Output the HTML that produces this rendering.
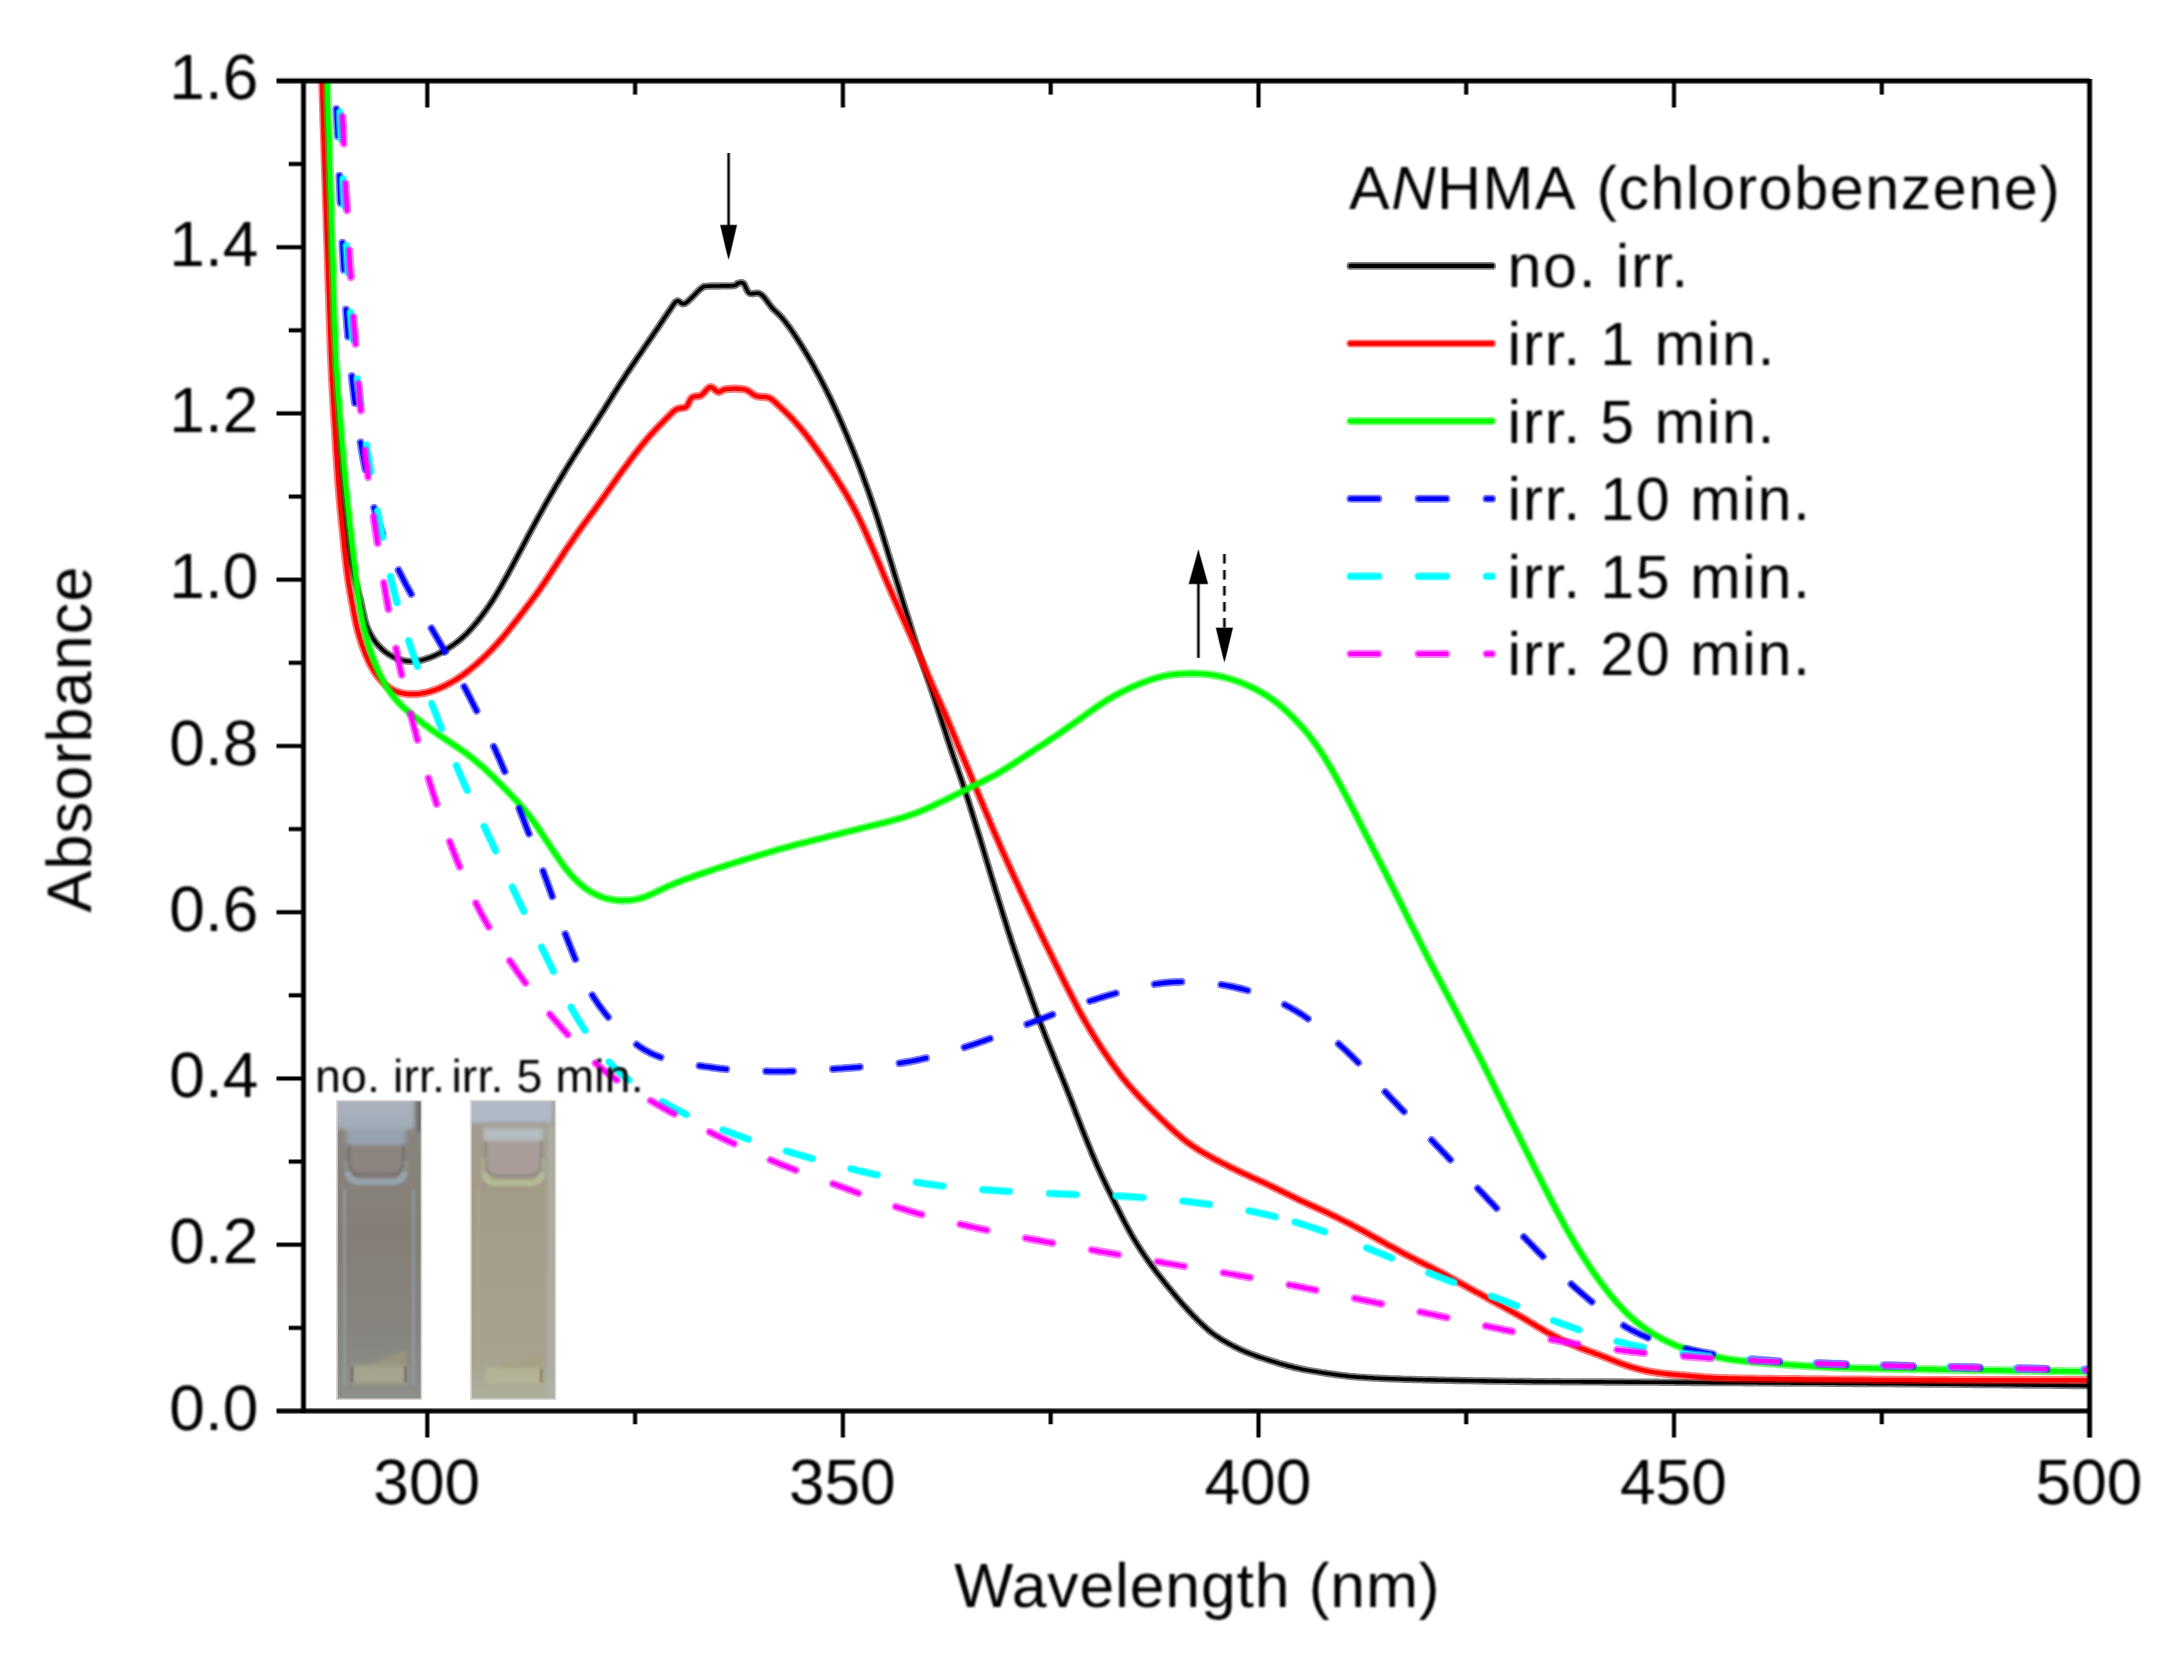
<!DOCTYPE html>
<html lang="en"><head><meta charset="utf-8"><title>ANHMA (chlorobenzene) UV-Vis absorbance vs irradiation time</title><style>html,body{margin:0;padding:0;background:#fff;}body{width:2177px;height:1660px;overflow:hidden;}svg{display:block;}</style></head><body>
<svg width="2177" height="1660" viewBox="0 0 2177 1660" font-family='"Liberation Sans", Arial, Helvetica, sans-serif' text-rendering="geometricPrecision">
<defs>
<clipPath id="plot"><rect x="303.5" y="80.9" width="1786.1" height="1330.1"/></clipPath>
<filter id="soft" x="-2%" y="-2%" width="104%" height="104%"><feGaussianBlur stdDeviation="0.85"/></filter>
<filter id="b2" x="-10%" y="-10%" width="120%" height="120%"><feGaussianBlur stdDeviation="2.2"/></filter>
<filter id="b1" x="-10%" y="-10%" width="120%" height="120%"><feGaussianBlur stdDeviation="1.2"/></filter>
<linearGradient id="cg1" x1="0" y1="0" x2="0" y2="1"><stop offset="0" stop-color="#8b8681"/><stop offset="0.45" stop-color="#857e77"/><stop offset="0.8" stop-color="#87857f"/><stop offset="1" stop-color="#8d8f8a"/></linearGradient><linearGradient id="cg2" x1="0" y1="0" x2="0" y2="1"><stop offset="0" stop-color="#a19b91"/><stop offset="0.3" stop-color="#a29b87"/><stop offset="0.85" stop-color="#a7a18e"/><stop offset="1" stop-color="#aeb09b"/></linearGradient><linearGradient id="cap1" x1="0" y1="0" x2="0" y2="1"><stop offset="0" stop-color="#adb3bd"/><stop offset="1" stop-color="#a0abb9"/></linearGradient><linearGradient id="cap2" x1="0" y1="0" x2="0" y2="1"><stop offset="0" stop-color="#b4bac6"/><stop offset="1" stop-color="#aeb8c6"/></linearGradient>
<path id="c_black" d="M323.0 70.0 L323.1 72.7 L323.2 75.6 L323.3 78.7 L323.4 82.1 L323.4 84.8 L323.5 87.6 L323.6 90.6 L323.7 93.8 L323.8 97.1 L323.9 100.4 L324.0 103.9 L324.1 107.4 L324.2 110.8 L324.3 114.2 L324.4 117.5 L324.5 120.6 L324.6 123.7 L324.7 126.6 L324.8 129.5 L324.9 132.4 L325.0 135.2 L325.0 138.1 L325.1 141.0 L325.2 144.0 L325.3 147.0 L325.4 150.0 L325.5 153.1 L325.6 156.1 L325.7 159.3 L325.8 162.4 L325.9 165.5 L326.0 168.7 L326.1 171.9 L326.2 175.0 L326.3 178.2 L326.4 181.4 L326.5 184.5 L326.6 187.6 L326.7 190.7 L326.8 193.8 L326.9 196.9 L327.0 199.9 L327.1 203.0 L327.2 206.0 L327.3 209.1 L327.4 212.1 L327.5 215.2 L327.6 218.2 L327.8 221.3 L327.9 224.3 L328.0 227.4 L328.1 230.4 L328.2 233.5 L328.3 236.5 L328.4 239.6 L328.5 242.6 L328.7 245.6 L328.8 248.7 L328.9 251.7 L329.0 254.7 L329.1 257.7 L329.2 260.6 L329.4 263.6 L329.5 266.5 L329.6 269.5 L329.7 272.4 L329.8 275.4 L329.9 278.3 L330.1 281.3 L330.2 284.3 L330.3 287.3 L330.4 290.3 L330.5 293.4 L330.7 296.4 L330.8 299.3 L330.9 302.3 L331.0 305.3 L331.1 308.2 L331.3 311.1 L331.4 314.0 L331.5 316.9 L331.6 319.9 L331.7 322.8 L331.9 325.7 L332.0 328.7 L332.1 331.6 L332.3 334.6 L332.4 337.6 L332.6 340.7 L332.7 343.7 L332.8 346.7 L333.0 349.7 L333.1 352.7 L333.3 355.7 L333.4 358.7 L333.6 361.7 L333.7 364.7 L333.9 367.7 L334.1 370.7 L334.2 373.8 L334.4 376.8 L334.5 379.9 L334.7 383.0 L334.9 386.1 L335.0 389.1 L335.2 392.2 L335.4 395.3 L335.6 398.4 L335.7 401.5 L335.9 404.5 L336.1 407.6 L336.3 410.6 L336.5 413.6 L336.6 416.5 L336.8 419.5 L337.0 422.5 L337.2 425.4 L337.4 428.4 L337.6 431.5 L337.8 434.5 L338.0 437.6 L338.3 440.7 L338.5 443.8 L338.7 446.9 L339.0 449.9 L339.2 453.0 L339.4 456.0 L339.7 459.0 L339.9 462.0 L340.1 465.0 L340.4 467.9 L340.6 470.9 L340.9 473.8 L341.1 476.7 L341.4 479.6 L341.7 482.5 L341.9 485.4 L342.2 488.4 L342.5 491.3 L342.7 494.3 L343.0 497.3 L343.3 500.3 L343.6 503.4 L343.9 506.5 L344.2 509.7 L344.5 512.8 L344.8 516.0 L345.1 519.1 L345.4 522.3 L345.7 525.4 L346.1 528.6 L346.4 531.6 L346.7 534.7 L347.0 537.7 L347.4 540.7 L347.7 543.6 L348.1 546.5 L348.5 549.4 L348.9 552.3 L349.4 555.1 L349.9 558.1 L350.4 561.1 L351.0 564.1 L351.7 567.2 L352.4 570.3 L353.2 573.3 L353.9 576.4 L354.8 579.3 L355.6 582.2 L356.4 585.0 L357.2 587.8 L358.0 590.5 L358.7 593.3 L359.5 596.1 L360.2 598.9 L360.9 601.8 L361.6 604.8 L362.2 607.8 L362.8 610.8 L363.5 613.7 L364.1 616.7 L364.8 619.5 L365.6 622.4 L366.5 625.2 L367.5 628.0 L368.7 630.7 L370.1 633.4 L371.5 636.0 L373.1 638.6 L374.9 641.1 L376.7 643.5 L378.7 645.8 L380.9 648.0 L383.1 650.1 L385.5 652.1 L388.0 653.9 L390.6 655.5 L393.3 657.0 L396.1 658.3 L399.0 659.3 L402.0 660.2 L405.0 660.8 L408.1 661.2 L411.2 661.3 L414.2 661.2 L417.3 660.9 L420.3 660.4 L423.3 659.7 L426.3 658.8 L429.2 657.8 L432.1 656.7 L434.9 655.5 L437.7 654.2 L440.4 652.8 L443.1 651.4 L445.7 649.8 L448.3 648.3 L450.8 646.6 L453.3 644.9 L455.7 643.1 L458.1 641.3 L460.4 639.4 L462.7 637.3 L465.0 635.2 L467.2 633.1 L469.3 630.8 L471.4 628.5 L473.5 626.1 L475.5 623.7 L477.5 621.3 L479.4 618.8 L481.4 616.4 L483.2 613.9 L485.0 611.5 L486.8 609.0 L488.5 606.5 L490.2 604.0 L491.9 601.5 L493.5 599.0 L495.1 596.4 L496.7 593.8 L498.2 591.2 L499.8 588.5 L501.4 585.8 L502.9 583.0 L504.4 580.3 L506.0 577.5 L507.5 574.8 L508.9 572.1 L510.4 569.4 L511.8 566.8 L513.2 564.2 L514.6 561.6 L515.9 559.1 L517.3 556.5 L518.7 553.9 L520.0 551.4 L521.4 548.8 L522.8 546.2 L524.2 543.5 L525.6 540.9 L527.0 538.2 L528.4 535.5 L529.9 532.7 L531.4 529.9 L532.9 527.2 L534.4 524.4 L535.9 521.6 L537.4 518.8 L538.9 516.1 L540.4 513.4 L541.9 510.7 L543.4 508.0 L544.8 505.4 L546.3 502.7 L547.8 500.1 L549.3 497.5 L550.8 494.9 L552.3 492.3 L553.8 489.8 L555.2 487.2 L556.7 484.6 L558.3 482.1 L559.8 479.5 L561.3 477.0 L562.8 474.5 L564.3 472.0 L565.9 469.4 L567.4 466.9 L569.0 464.3 L570.6 461.8 L572.2 459.2 L573.8 456.6 L575.4 454.1 L577.1 451.5 L578.7 448.9 L580.3 446.4 L582.0 443.8 L583.6 441.3 L585.3 438.7 L587.0 436.1 L588.7 433.5 L590.4 430.8 L592.1 428.2 L593.8 425.6 L595.5 423.0 L597.2 420.3 L598.8 417.7 L600.5 415.1 L602.1 412.5 L603.8 409.9 L605.4 407.3 L607.0 404.7 L608.6 402.1 L610.2 399.6 L611.8 397.0 L613.4 394.4 L615.0 391.8 L616.7 389.3 L618.3 386.7 L619.9 384.1 L621.6 381.5 L623.3 378.9 L625.0 376.3 L626.7 373.6 L628.5 370.9 L630.3 368.3 L632.1 365.6 L633.9 362.9 L635.7 360.3 L637.4 357.7 L639.2 355.2 L640.9 352.7 L642.6 350.2 L644.2 347.7 L645.9 345.3 L647.6 342.8 L649.4 340.2 L651.1 337.7 L652.7 335.4 L654.2 333.1 L655.9 330.7 L656.5 329.9 L657.0 329.1 L657.6 328.3 L658.1 327.4 L658.7 326.6 L659.3 325.7 L659.8 324.9 L660.4 324.0 L661.0 323.1 L661.6 322.2 L662.2 321.3 L662.8 320.4 L663.4 319.5 L664.0 318.6 L664.6 317.7 L665.2 316.8 L665.8 316.0 L666.3 315.1 L666.9 314.3 L667.4 313.5 L667.9 312.8 L668.4 312.1 L668.9 311.4 L669.7 310.3 L670.4 309.2 L671.1 308.2 L671.7 307.2 L672.3 306.3 L672.9 305.4 L673.5 304.5 L674.0 303.8 L674.6 303.1 L675.1 302.4 L675.7 301.9 L676.3 301.5 L676.9 301.1 L677.9 300.9 L678.7 301.2 L679.6 301.8 L680.4 302.5 L681.4 303.2 L682.4 303.7 L683.6 303.8 L685.0 303.4 L685.6 303.0 L686.3 302.6 L687.0 302.1 L687.7 301.5 L688.5 300.8 L689.3 300.0 L690.1 299.2 L691.0 298.4 L691.8 297.6 L692.7 296.7 L693.6 295.8 L694.4 294.9 L695.3 294.0 L696.1 293.2 L696.9 292.3 L697.7 291.5 L698.5 290.8 L699.2 290.1 L699.9 289.5 L700.5 289.0 L701.1 288.5 L702.4 287.5 L703.2 286.9 L703.7 286.5 L704.2 286.4 L705.0 286.4 L706.1 286.3 L708.0 286.2 L708.7 286.1 L709.5 286.1 L710.3 286.1 L711.2 286.0 L712.2 286.0 L713.2 286.0 L714.3 286.0 L715.4 286.0 L716.6 286.0 L717.8 286.0 L718.9 286.0 L720.1 286.0 L721.3 285.9 L722.5 285.9 L723.7 285.9 L724.9 285.9 L726.0 285.9 L727.1 285.9 L728.2 285.9 L729.2 285.9 L730.1 285.9 L731.0 285.8 L731.8 285.8 L732.6 285.8 L733.2 285.7 L735.4 285.3 L736.5 284.8 L736.9 284.2 L737.1 283.7 L737.8 283.4 L738.9 283.1 L740.0 282.8 L741.2 282.6 L742.3 282.7 L743.5 283.4 L744.0 283.9 L744.5 284.7 L744.9 285.6 L745.4 286.6 L745.8 287.6 L746.3 288.7 L746.8 289.8 L747.3 290.8 L747.9 291.7 L748.6 292.5 L749.3 293.1 L750.1 293.5 L751.0 293.7 L752.0 293.7 L753.1 293.6 L754.1 293.5 L755.3 293.3 L756.4 293.2 L757.5 293.2 L758.6 293.3 L759.7 293.7 L760.8 294.2 L761.5 294.7 L762.2 295.3 L762.8 295.9 L763.5 296.6 L764.2 297.4 L764.9 298.2 L765.5 299.1 L766.2 300.0 L766.9 300.9 L767.6 301.8 L768.2 302.8 L768.9 303.7 L769.6 304.6 L770.3 305.5 L771.0 306.4 L771.6 307.2 L772.3 308.0 L773.0 308.8 L773.7 309.5 L774.4 310.2 L775.2 310.9 L775.9 311.6 L776.6 312.2 L777.3 312.9 L778.0 313.6 L778.7 314.3 L779.4 315.0 L780.1 315.7 L780.8 316.5 L781.5 317.2 L782.2 318.0 L782.8 318.8 L783.5 319.6 L784.1 320.4 L786.0 322.7 L787.8 325.2 L789.7 327.7 L791.5 330.3 L793.3 332.9 L795.0 335.5 L796.7 338.1 L798.4 340.7 L800.1 343.3 L801.7 345.9 L803.3 348.5 L804.9 351.2 L806.5 353.8 L808.1 356.5 L809.6 359.1 L811.2 361.8 L812.7 364.5 L814.2 367.2 L815.6 369.9 L817.1 372.6 L818.5 375.2 L820.0 377.9 L821.4 380.6 L822.8 383.3 L824.2 386.0 L825.5 388.7 L826.9 391.4 L828.2 394.2 L829.6 396.9 L830.9 399.6 L832.2 402.4 L833.5 405.1 L834.8 407.9 L836.1 410.7 L837.4 413.5 L838.6 416.3 L839.9 419.2 L841.1 422.0 L842.4 424.9 L843.6 427.8 L844.8 430.7 L846.1 433.6 L847.3 436.5 L848.4 439.3 L849.6 442.2 L850.8 444.9 L851.9 447.7 L853.0 450.4 L854.1 453.0 L855.1 455.7 L856.2 458.4 L857.3 461.1 L858.3 463.8 L859.4 466.5 L860.4 469.3 L861.4 472.0 L862.4 474.7 L863.4 477.5 L864.4 480.3 L865.4 483.1 L866.5 486.0 L867.5 488.9 L868.6 491.9 L869.6 494.9 L870.7 497.9 L871.7 501.0 L872.7 504.0 L873.7 507.0 L874.7 509.9 L875.7 512.8 L876.6 515.7 L877.6 518.6 L878.5 521.4 L879.3 524.3 L880.2 527.1 L881.1 529.9 L882.0 532.7 L882.8 535.5 L883.7 538.4 L884.5 541.2 L885.4 544.1 L886.3 547.0 L887.2 549.9 L888.0 552.8 L888.9 555.7 L889.8 558.6 L890.7 561.5 L891.6 564.4 L892.5 567.3 L893.3 570.2 L894.2 573.1 L895.1 576.1 L896.0 579.0 L896.9 582.0 L897.9 585.0 L898.8 587.9 L899.7 590.9 L900.6 593.9 L901.5 596.8 L902.4 599.8 L903.3 602.7 L904.2 605.7 L905.1 608.6 L906.0 611.5 L906.9 614.5 L907.9 617.4 L908.8 620.3 L909.7 623.3 L910.6 626.2 L911.5 629.1 L912.4 632.0 L913.3 634.9 L914.2 637.7 L915.1 640.6 L916.0 643.5 L916.9 646.3 L917.8 649.1 L918.7 652.0 L919.6 654.8 L920.6 657.7 L921.5 660.5 L922.5 663.4 L923.4 666.3 L924.4 669.2 L925.4 672.0 L926.3 674.9 L927.3 677.7 L928.3 680.6 L929.3 683.4 L930.2 686.2 L931.2 689.1 L932.2 691.9 L933.1 694.7 L934.1 697.5 L935.0 700.3 L936.0 703.2 L936.9 706.0 L937.9 708.9 L938.8 711.8 L939.7 714.6 L940.7 717.5 L941.6 720.4 L942.5 723.3 L943.4 726.1 L944.4 729.0 L945.3 731.9 L946.2 734.7 L947.1 737.6 L948.0 740.4 L949.0 743.3 L949.9 746.1 L950.9 749.0 L951.8 751.8 L952.8 754.7 L953.7 757.5 L954.7 760.3 L955.7 763.2 L956.7 766.0 L957.7 768.8 L958.6 771.7 L959.6 774.5 L960.6 777.4 L961.6 780.3 L962.6 783.2 L963.5 786.1 L964.5 789.0 L965.4 791.9 L966.4 794.8 L967.3 797.7 L968.3 800.6 L969.2 803.5 L970.1 806.5 L971.0 809.4 L972.0 812.4 L972.9 815.4 L973.8 818.3 L974.7 821.3 L975.6 824.2 L976.5 827.1 L977.4 830.0 L978.3 832.9 L979.2 835.8 L980.1 838.7 L980.9 841.6 L981.8 844.5 L982.7 847.4 L983.5 850.2 L984.4 853.1 L985.2 855.9 L986.1 858.7 L986.9 861.6 L987.8 864.5 L988.7 867.4 L989.5 870.3 L990.4 873.2 L991.3 876.2 L992.2 879.1 L993.1 882.1 L994.0 885.1 L994.9 888.1 L995.8 891.1 L996.8 894.1 L997.7 897.1 L998.6 900.2 L999.6 903.3 L1000.5 906.4 L1001.5 909.5 L1002.4 912.5 L1003.3 915.5 L1004.3 918.5 L1005.2 921.4 L1006.1 924.2 L1007.0 927.1 L1007.9 930.0 L1008.8 932.9 L1009.8 935.8 L1010.7 938.7 L1011.6 941.6 L1012.6 944.4 L1013.5 947.2 L1014.4 949.9 L1015.4 952.6 L1016.3 955.3 L1017.2 958.0 L1018.2 960.8 L1019.1 963.6 L1020.1 966.5 L1021.1 969.4 L1022.2 972.3 L1023.2 975.3 L1024.2 978.2 L1025.3 981.2 L1026.3 984.1 L1027.4 987.0 L1028.4 989.9 L1029.4 992.8 L1030.4 995.6 L1031.4 998.5 L1032.4 1001.3 L1033.4 1004.1 L1034.4 1006.9 L1035.4 1009.7 L1036.4 1012.5 L1037.5 1015.3 L1038.5 1018.1 L1039.6 1020.8 L1040.6 1023.6 L1041.7 1026.4 L1042.8 1029.2 L1043.9 1032.0 L1045.0 1034.8 L1046.1 1037.7 L1047.3 1040.6 L1048.4 1043.5 L1049.6 1046.3 L1050.7 1049.2 L1051.9 1052.1 L1053.0 1055.0 L1054.2 1057.9 L1055.3 1060.8 L1056.5 1063.7 L1057.7 1066.6 L1058.8 1069.5 L1060.0 1072.4 L1061.2 1075.2 L1062.3 1078.1 L1063.5 1080.9 L1064.6 1083.8 L1065.8 1086.6 L1066.9 1089.5 L1068.0 1092.4 L1069.1 1095.3 L1070.3 1098.1 L1071.4 1101.0 L1072.5 1103.9 L1073.6 1106.8 L1074.7 1109.6 L1075.7 1112.5 L1076.8 1115.4 L1077.9 1118.2 L1079.1 1121.1 L1080.2 1124.0 L1081.3 1126.9 L1082.4 1129.8 L1083.6 1132.7 L1084.7 1135.6 L1085.9 1138.4 L1087.0 1141.3 L1088.2 1144.2 L1089.3 1147.0 L1090.5 1149.8 L1091.6 1152.7 L1092.8 1155.5 L1094.0 1158.3 L1095.2 1161.1 L1096.4 1163.9 L1097.6 1166.7 L1098.9 1169.4 L1100.1 1172.1 L1101.3 1174.9 L1102.6 1177.6 L1103.9 1180.3 L1105.2 1183.1 L1106.5 1185.8 L1107.8 1188.6 L1109.2 1191.3 L1110.5 1194.0 L1111.9 1196.7 L1113.2 1199.5 L1114.6 1202.2 L1115.9 1204.9 L1117.3 1207.6 L1118.6 1210.3 L1120.0 1213.0 L1121.3 1215.7 L1122.7 1218.4 L1124.1 1221.1 L1125.5 1223.8 L1127.0 1226.5 L1128.4 1229.2 L1129.9 1231.9 L1131.4 1234.6 L1133.0 1237.3 L1134.6 1240.0 L1136.2 1242.6 L1137.8 1245.3 L1139.5 1247.9 L1141.1 1250.5 L1142.9 1253.1 L1144.6 1255.7 L1146.4 1258.2 L1148.1 1260.8 L1150.0 1263.3 L1151.8 1265.9 L1153.7 1268.4 L1155.5 1270.9 L1157.4 1273.3 L1159.4 1275.8 L1161.3 1278.2 L1163.2 1280.7 L1165.1 1283.1 L1167.1 1285.5 L1169.0 1287.9 L1171.0 1290.2 L1172.9 1292.6 L1174.9 1295.0 L1176.8 1297.3 L1178.8 1299.6 L1180.8 1302.0 L1182.8 1304.3 L1184.8 1306.5 L1186.9 1308.8 L1188.9 1311.0 L1191.0 1313.3 L1193.1 1315.5 L1195.2 1317.6 L1197.3 1319.8 L1199.4 1321.8 L1201.6 1323.9 L1203.8 1325.9 L1206.0 1327.9 L1208.2 1329.9 L1210.6 1331.8 L1212.9 1333.6 L1215.4 1335.4 L1217.9 1337.1 L1220.4 1338.8 L1223.0 1340.4 L1225.7 1341.9 L1228.3 1343.4 L1231.1 1344.9 L1233.8 1346.3 L1236.6 1347.7 L1239.4 1349.1 L1242.2 1350.3 L1245.0 1351.6 L1247.8 1352.7 L1250.6 1353.9 L1253.5 1354.9 L1256.3 1356.0 L1259.1 1357.0 L1262.0 1357.9 L1264.9 1358.9 L1267.7 1359.8 L1270.6 1360.7 L1273.5 1361.6 L1276.5 1362.5 L1279.4 1363.4 L1282.3 1364.2 L1285.3 1365.1 L1288.3 1365.9 L1291.2 1366.6 L1294.2 1367.4 L1297.2 1368.1 L1300.2 1368.7 L1303.2 1369.4 L1306.3 1370.0 L1309.3 1370.5 L1312.3 1371.0 L1315.4 1371.5 L1318.4 1372.0 L1321.3 1372.5 L1324.3 1372.9 L1327.2 1373.4 L1330.0 1373.8 L1332.9 1374.2 L1335.8 1374.6 L1338.7 1375.0 L1341.6 1375.4 L1344.6 1375.7 L1347.6 1376.1 L1350.6 1376.4 L1353.5 1376.6 L1356.3 1376.9 L1358.9 1377.1 L1361.5 1377.3 L1364.1 1377.4 L1366.7 1377.6 L1369.3 1377.8 L1371.9 1377.9 L1374.7 1378.1 L1377.6 1378.2 L1380.6 1378.4 L1383.7 1378.5 L1387.0 1378.6 L1390.3 1378.8 L1393.8 1378.9 L1397.3 1379.0 L1400.7 1379.1 L1404.1 1379.3 L1407.3 1379.4 L1410.4 1379.4 L1413.3 1379.5 L1416.0 1379.6 L1418.7 1379.7 L1421.4 1379.7 L1424.0 1379.8 L1426.7 1379.9 L1429.4 1379.9 L1432.2 1380.0 L1435.0 1380.0 L1437.8 1380.1 L1440.7 1380.2 L1443.6 1380.2 L1446.6 1380.3 L1449.6 1380.3 L1452.6 1380.4 L1455.7 1380.5 L1458.8 1380.5 L1461.9 1380.6 L1465.1 1380.6 L1468.3 1380.7 L1471.5 1380.7 L1474.7 1380.8 L1477.9 1380.8 L1481.2 1380.9 L1484.5 1380.9 L1487.7 1381.0 L1491.0 1381.0 L1494.3 1381.1 L1497.6 1381.1 L1500.9 1381.2 L1504.2 1381.2 L1507.4 1381.3 L1510.7 1381.3 L1513.8 1381.3 L1516.9 1381.4 L1519.9 1381.4 L1522.8 1381.4 L1525.6 1381.5 L1528.3 1381.5 L1531.0 1381.5 L1533.6 1381.6 L1536.3 1381.6 L1538.8 1381.6 L1541.4 1381.6 L1544.0 1381.6 L1546.5 1381.7 L1549.1 1381.7 L1551.7 1381.7 L1554.2 1381.7 L1556.8 1381.7 L1559.4 1381.7 L1562.0 1381.8 L1564.6 1381.8 L1567.2 1381.8 L1569.9 1381.8 L1572.6 1381.8 L1575.3 1381.8 L1578.0 1381.8 L1580.8 1381.8 L1583.7 1381.9 L1586.6 1381.9 L1589.5 1381.9 L1592.5 1381.9 L1595.5 1381.9 L1598.6 1381.9 L1601.8 1381.9 L1605.1 1382.0 L1608.4 1382.0 L1611.8 1382.0 L1615.2 1382.0 L1618.8 1382.0 L1622.4 1382.0 L1626.1 1382.1 L1629.8 1382.1 L1632.3 1382.1 L1634.8 1382.1 L1638.5 1382.1 L1642.2 1382.2 L1645.6 1382.2 L1648.9 1382.2 L1652.0 1382.2 L1654.9 1382.2 L1657.6 1382.2 L1660.3 1382.3 L1662.9 1382.3 L1665.4 1382.3 L1668.0 1382.3 L1670.6 1382.3 L1673.2 1382.3 L1675.9 1382.4 L1678.6 1382.4 L1681.3 1382.4 L1684.0 1382.4 L1686.8 1382.4 L1689.6 1382.4 L1692.5 1382.5 L1695.3 1382.5 L1698.2 1382.5 L1701.1 1382.5 L1704.1 1382.5 L1707.0 1382.5 L1710.0 1382.6 L1713.0 1382.6 L1716.1 1382.6 L1719.1 1382.6 L1722.2 1382.6 L1725.3 1382.7 L1728.4 1382.7 L1731.5 1382.7 L1734.7 1382.7 L1737.8 1382.7 L1741.0 1382.7 L1744.2 1382.8 L1747.3 1382.8 L1750.6 1382.8 L1753.8 1382.8 L1757.0 1382.8 L1760.2 1382.9 L1763.5 1382.9 L1766.7 1382.9 L1770.0 1382.9 L1773.2 1382.9 L1776.5 1383.0 L1779.7 1383.0 L1783.0 1383.0 L1786.3 1383.0 L1789.5 1383.0 L1792.8 1383.1 L1796.1 1383.1 L1799.3 1383.1 L1802.6 1383.1 L1805.9 1383.1 L1809.1 1383.2 L1812.4 1383.2 L1815.6 1383.2 L1818.8 1383.2 L1822.0 1383.3 L1825.3 1383.3 L1828.5 1383.3 L1831.7 1383.3 L1834.8 1383.3 L1838.0 1383.4 L1841.1 1383.4 L1844.3 1383.4 L1847.4 1383.4 L1850.5 1383.4 L1853.6 1383.5 L1856.7 1383.5 L1859.7 1383.5 L1862.7 1383.5 L1865.7 1383.5 L1868.7 1383.6 L1871.7 1383.6 L1874.6 1383.6 L1877.6 1383.6 L1880.4 1383.7 L1883.3 1383.7 L1886.2 1383.7 L1889.0 1383.7 L1891.9 1383.7 L1894.8 1383.8 L1897.8 1383.8 L1900.9 1383.8 L1904.0 1383.8 L1907.3 1383.9 L1910.6 1383.9 L1914.0 1383.9 L1917.4 1383.9 L1920.9 1384.0 L1924.4 1384.0 L1927.9 1384.0 L1931.5 1384.1 L1935.0 1384.1 L1938.5 1384.1 L1942.1 1384.2 L1945.6 1384.2 L1949.2 1384.2 L1952.7 1384.3 L1956.3 1384.3 L1959.8 1384.3 L1963.4 1384.4 L1966.9 1384.4 L1970.4 1384.4 L1973.9 1384.5 L1977.4 1384.5 L1980.9 1384.5 L1984.3 1384.6 L1987.8 1384.6 L1991.2 1384.6 L1994.6 1384.7 L1998.0 1384.7 L2001.4 1384.7 L2004.7 1384.8 L2008.1 1384.8 L2011.4 1384.8 L2014.6 1384.9 L2017.9 1384.9 L2021.1 1384.9 L2024.2 1385.0 L2027.3 1385.0 L2030.4 1385.0 L2033.5 1385.1 L2036.5 1385.1 L2039.5 1385.1 L2042.4 1385.2 L2045.3 1385.2 L2048.2 1385.2 L2051.0 1385.2 L2053.7 1385.3 L2056.4 1385.3 L2059.1 1385.3 L2061.6 1385.4 L2064.2 1385.4 L2067.5 1385.4 L2070.7 1385.5 L2073.8 1385.5 L2076.7 1385.5 L2079.6 1385.5 L2082.3 1385.6 L2085.0 1385.6 L2087.5 1385.6 L2090.5 1385.7 L2093.3 1385.7 L2095.0 1385.7"/>
<path id="c_red" d="M321.8 70.0 L321.9 72.7 L322.0 75.6 L322.1 78.7 L322.2 82.1 L322.3 84.8 L322.4 87.6 L322.5 90.6 L322.6 93.8 L322.7 97.1 L322.8 100.4 L323.0 103.9 L323.1 107.4 L323.2 110.8 L323.3 114.2 L323.4 117.5 L323.5 120.6 L323.6 123.7 L323.7 126.6 L323.8 129.5 L323.9 132.4 L324.0 135.2 L324.1 138.1 L324.2 141.0 L324.3 144.0 L324.4 147.0 L324.4 150.0 L324.5 153.1 L324.6 156.1 L324.7 159.3 L324.8 162.4 L324.9 165.5 L325.0 168.7 L325.1 171.9 L325.2 175.0 L325.3 178.2 L325.4 181.4 L325.5 184.5 L325.6 187.6 L325.7 190.7 L325.8 193.8 L325.9 196.9 L326.0 199.9 L326.1 203.0 L326.2 206.0 L326.3 209.0 L326.4 212.0 L326.5 215.0 L326.6 218.0 L326.7 221.0 L326.7 224.0 L326.8 227.0 L326.9 230.0 L327.0 233.0 L327.1 236.0 L327.2 239.0 L327.3 242.0 L327.4 245.0 L327.5 248.0 L327.6 251.0 L327.7 254.0 L327.8 257.0 L327.9 260.0 L328.0 263.0 L328.1 266.0 L328.1 269.0 L328.2 272.0 L328.3 275.0 L328.4 278.0 L328.5 281.0 L328.6 284.0 L328.7 287.1 L328.8 290.1 L328.9 293.1 L329.0 296.2 L329.1 299.2 L329.2 302.3 L329.3 305.3 L329.4 308.4 L329.5 311.4 L329.6 314.5 L329.7 317.6 L329.8 320.6 L329.9 323.6 L330.0 326.7 L330.1 329.7 L330.2 332.7 L330.3 335.7 L330.4 338.7 L330.5 341.6 L330.6 344.6 L330.7 347.5 L330.8 350.5 L330.9 353.4 L331.1 356.4 L331.2 359.4 L331.3 362.4 L331.5 365.4 L331.6 368.5 L331.7 371.5 L331.9 374.6 L332.0 377.7 L332.2 380.7 L332.4 383.8 L332.5 386.8 L332.7 389.8 L332.8 392.8 L333.0 395.8 L333.2 398.7 L333.3 401.7 L333.5 404.6 L333.7 407.6 L333.8 410.5 L334.0 413.4 L334.2 416.4 L334.4 419.3 L334.5 422.2 L334.7 425.2 L334.9 428.1 L335.1 431.1 L335.2 434.1 L335.4 437.1 L335.6 440.1 L335.8 443.0 L336.0 446.0 L336.1 449.0 L336.3 452.0 L336.5 454.9 L336.7 457.9 L336.9 460.8 L337.1 463.8 L337.3 466.8 L337.5 469.7 L337.7 472.7 L337.9 475.7 L338.1 478.7 L338.3 481.7 L338.5 484.7 L338.8 487.8 L339.0 490.8 L339.3 493.9 L339.5 496.9 L339.8 500.0 L340.1 503.1 L340.3 506.2 L340.6 509.4 L340.9 512.6 L341.2 515.8 L341.5 519.1 L341.8 522.3 L342.2 525.6 L342.5 528.9 L342.8 532.2 L343.1 535.4 L343.5 538.6 L343.8 541.8 L344.1 544.9 L344.4 548.0 L344.7 551.0 L345.1 554.0 L345.4 556.9 L345.7 559.7 L346.0 562.5 L346.4 565.4 L346.7 568.4 L347.1 571.4 L347.5 574.5 L347.9 577.6 L348.4 580.7 L348.8 583.8 L349.3 586.7 L349.8 589.5 L350.3 592.3 L350.7 595.0 L351.2 597.7 L351.7 600.5 L352.2 603.3 L352.8 606.2 L353.3 609.1 L353.8 612.1 L354.4 615.1 L355.0 618.1 L355.6 621.0 L356.2 624.0 L356.9 627.0 L357.7 630.1 L358.5 633.1 L359.3 636.1 L360.2 639.1 L361.2 642.1 L362.1 645.0 L363.2 648.0 L364.3 650.9 L365.4 653.8 L366.6 656.6 L367.9 659.5 L369.2 662.3 L370.6 665.1 L372.1 667.8 L373.7 670.5 L375.3 673.1 L377.1 675.6 L378.9 678.0 L380.9 680.3 L383.0 682.5 L385.2 684.6 L387.6 686.5 L390.0 688.2 L392.6 689.7 L395.2 691.0 L398.0 692.1 L400.8 692.9 L403.7 693.5 L406.6 693.9 L409.6 694.1 L412.6 694.2 L415.7 694.1 L418.7 693.8 L421.7 693.4 L424.7 692.9 L427.7 692.2 L430.7 691.4 L433.6 690.4 L436.4 689.4 L439.3 688.3 L442.1 687.1 L444.8 685.8 L447.5 684.4 L450.2 683.0 L452.8 681.5 L455.4 680.0 L458.0 678.4 L460.5 676.7 L463.0 674.9 L465.5 673.1 L467.9 671.3 L470.3 669.4 L472.6 667.4 L475.0 665.4 L477.3 663.4 L479.5 661.4 L481.8 659.4 L483.9 657.3 L486.1 655.2 L488.2 653.1 L490.4 651.0 L492.4 648.8 L494.5 646.6 L496.5 644.4 L498.5 642.2 L500.4 640.0 L502.4 637.8 L504.3 635.5 L506.2 633.2 L508.1 630.9 L509.9 628.5 L511.8 626.1 L513.7 623.7 L515.6 621.3 L517.5 619.0 L519.3 616.6 L521.2 614.2 L523.1 611.8 L524.9 609.3 L526.8 606.9 L528.6 604.5 L530.5 602.0 L532.3 599.5 L534.2 597.1 L536.0 594.6 L537.7 592.1 L539.5 589.7 L541.2 587.2 L543.0 584.7 L544.7 582.2 L546.3 579.7 L548.0 577.2 L549.6 574.7 L551.3 572.2 L552.9 569.7 L554.5 567.3 L556.1 564.8 L557.7 562.3 L559.3 559.9 L561.0 557.4 L562.6 555.0 L564.2 552.5 L565.8 550.0 L567.5 547.6 L569.2 545.1 L570.9 542.6 L572.6 540.1 L574.3 537.6 L576.0 535.1 L577.8 532.6 L579.5 530.2 L581.3 527.7 L583.1 525.3 L584.8 522.8 L586.7 520.3 L588.5 517.8 L590.3 515.4 L592.1 512.9 L594.0 510.4 L595.8 507.9 L597.6 505.4 L599.4 502.9 L601.2 500.4 L603.0 497.9 L604.8 495.4 L606.6 492.9 L608.3 490.4 L610.1 487.9 L611.9 485.4 L613.6 482.9 L615.4 480.5 L617.2 478.0 L618.9 475.5 L620.7 473.1 L622.5 470.6 L624.3 468.1 L626.2 465.7 L628.0 463.2 L629.8 460.7 L631.7 458.3 L633.5 455.8 L635.4 453.4 L637.3 451.0 L639.1 448.6 L641.1 446.2 L643.0 443.8 L645.0 441.5 L647.0 439.1 L649.0 436.7 L651.2 434.3 L653.4 431.9 L655.6 429.5 L656.4 428.7 L657.1 427.9 L657.9 427.1 L658.6 426.3 L659.4 425.5 L660.1 424.8 L660.8 424.0 L661.6 423.3 L662.3 422.6 L663.0 421.9 L663.7 421.2 L664.3 420.5 L665.0 419.8 L665.6 419.2 L666.2 418.6 L666.8 418.0 L667.4 417.4 L667.9 416.9 L668.4 416.4 L668.9 415.9 L670.3 414.5 L671.4 413.4 L672.4 412.4 L673.1 411.7 L673.8 411.1 L674.3 410.7 L674.9 410.3 L675.5 409.9 L676.1 409.5 L676.9 409.1 L677.9 408.7 L678.9 408.4 L680.0 408.3 L681.1 408.1 L682.2 408.0 L683.2 407.9 L684.3 407.7 L685.2 407.3 L686.1 406.8 L686.8 406.1 L687.4 405.3 L688.0 404.3 L688.5 403.3 L689.0 402.2 L689.5 401.1 L690.0 400.1 L690.6 399.1 L691.2 398.3 L691.9 397.6 L692.8 397.1 L693.7 396.7 L694.7 396.5 L695.8 396.4 L696.8 396.3 L697.9 396.2 L699.0 396.1 L700.1 395.8 L701.1 395.3 L701.9 394.8 L702.6 394.1 L703.4 393.4 L704.2 392.6 L704.9 391.7 L705.7 390.8 L706.5 390.0 L707.2 389.2 L708.0 388.5 L708.7 387.9 L709.5 387.4 L710.2 387.2 L711.1 387.2 L712.1 387.5 L713.0 388.1 L713.9 388.8 L714.8 389.6 L715.6 390.3 L716.5 391.0 L717.4 391.5 L718.3 391.8 L719.2 391.8 L720.1 391.6 L720.9 391.2 L721.7 390.7 L722.5 390.2 L723.6 389.7 L724.8 389.3 L726.3 389.1 L727.1 389.0 L727.9 389.0 L728.8 388.9 L729.8 388.9 L730.8 388.8 L731.9 388.8 L733.0 388.7 L734.1 388.7 L735.3 388.7 L736.4 388.7 L737.6 388.8 L738.7 388.8 L739.8 388.9 L740.9 388.9 L741.9 389.0 L742.9 389.2 L743.8 389.3 L744.7 389.5 L745.8 389.8 L746.8 390.2 L747.8 390.7 L748.7 391.2 L749.5 391.7 L750.3 392.3 L751.1 392.9 L751.9 393.5 L752.7 394.1 L753.5 394.7 L754.4 395.2 L755.3 395.6 L756.2 396.0 L757.2 396.3 L758.2 396.5 L759.2 396.6 L760.3 396.7 L761.3 396.8 L762.4 396.8 L763.5 396.8 L764.6 396.9 L765.7 397.0 L766.8 397.2 L767.9 397.5 L768.9 397.8 L770.0 398.3 L770.8 398.7 L771.5 399.2 L772.3 399.7 L773.1 400.4 L773.8 401.0 L774.6 401.7 L775.4 402.4 L776.2 403.1 L776.9 403.8 L777.7 404.5 L778.5 405.3 L779.2 406.0 L780.0 406.7 L780.7 407.4 L781.5 408.2 L782.2 408.9 L782.9 409.5 L783.7 410.2 L784.4 410.9 L786.6 413.1 L788.8 415.2 L790.9 417.4 L793.0 419.6 L795.1 421.9 L797.1 424.2 L799.2 426.5 L801.2 428.9 L803.2 431.4 L805.2 433.8 L807.1 436.3 L809.0 438.7 L810.8 441.2 L812.7 443.7 L814.5 446.2 L816.3 448.7 L818.1 451.2 L819.9 453.7 L821.6 456.1 L823.3 458.6 L825.0 461.1 L826.7 463.6 L828.4 466.1 L830.1 468.6 L831.7 471.1 L833.4 473.6 L835.0 476.1 L836.6 478.7 L838.2 481.2 L839.8 483.8 L841.4 486.3 L842.9 488.9 L844.5 491.5 L846.0 494.0 L847.5 496.6 L849.0 499.2 L850.5 501.9 L852.0 504.6 L853.5 507.3 L854.9 510.0 L856.3 512.8 L857.7 515.5 L859.0 518.2 L860.3 520.9 L861.6 523.6 L862.9 526.3 L864.1 529.1 L865.4 531.9 L866.6 534.7 L867.9 537.5 L869.1 540.3 L870.4 543.2 L871.6 546.0 L872.8 548.8 L874.0 551.7 L875.3 554.5 L876.5 557.3 L877.7 560.1 L878.9 563.0 L880.1 565.8 L881.2 568.6 L882.4 571.5 L883.6 574.3 L884.8 577.1 L886.0 580.0 L887.2 582.8 L888.5 585.6 L889.7 588.4 L890.9 591.2 L892.1 594.0 L893.4 596.8 L894.6 599.6 L895.9 602.4 L897.1 605.2 L898.4 608.0 L899.6 610.8 L900.8 613.5 L902.1 616.3 L903.3 619.1 L904.6 621.8 L905.8 624.6 L907.0 627.3 L908.2 630.1 L909.5 632.8 L910.7 635.6 L911.9 638.3 L913.1 641.1 L914.4 643.8 L915.6 646.6 L916.8 649.3 L918.0 652.1 L919.3 654.9 L920.5 657.8 L921.8 660.6 L923.0 663.5 L924.3 666.5 L925.6 669.5 L926.8 672.4 L928.1 675.4 L929.4 678.4 L930.6 681.3 L931.8 684.1 L933.0 686.9 L934.2 689.5 L935.3 692.1 L936.4 694.6 L937.4 697.0 L938.5 699.3 L939.6 701.7 L940.7 704.1 L941.8 706.5 L942.8 708.9 L943.9 711.4 L945.0 713.8 L946.0 716.3 L947.1 718.7 L948.1 721.3 L949.2 723.9 L950.4 726.6 L951.5 729.4 L952.7 732.2 L953.9 735.1 L955.2 738.1 L956.5 741.2 L957.7 744.3 L959.0 747.4 L960.3 750.5 L961.6 753.6 L962.9 756.7 L964.2 759.8 L965.5 762.9 L966.7 765.9 L968.0 768.9 L969.2 771.8 L970.4 774.7 L971.6 777.6 L972.8 780.5 L974.0 783.3 L975.2 786.2 L976.3 789.0 L977.5 791.8 L978.7 794.7 L979.8 797.5 L981.0 800.3 L982.2 803.1 L983.3 806.0 L984.5 808.8 L985.7 811.6 L986.8 814.4 L988.0 817.2 L989.2 820.0 L990.3 822.8 L991.5 825.6 L992.7 828.4 L993.8 831.1 L995.0 833.9 L996.2 836.6 L997.4 839.4 L998.6 842.2 L999.8 845.0 L1001.1 847.8 L1002.3 850.6 L1003.5 853.4 L1004.8 856.2 L1006.0 859.0 L1007.3 861.8 L1008.5 864.6 L1009.8 867.3 L1011.0 870.1 L1012.3 872.8 L1013.5 875.6 L1014.8 878.3 L1016.0 881.0 L1017.3 883.7 L1018.5 886.4 L1019.8 889.2 L1021.0 891.9 L1022.3 894.6 L1023.6 897.3 L1024.8 900.1 L1026.1 902.8 L1027.5 905.6 L1028.8 908.4 L1030.1 911.3 L1031.5 914.1 L1032.8 917.0 L1034.2 919.9 L1035.6 922.7 L1036.9 925.6 L1038.3 928.4 L1039.6 931.2 L1041.0 934.0 L1042.3 936.8 L1043.6 939.5 L1044.9 942.2 L1046.2 944.9 L1047.5 947.5 L1048.8 950.1 L1050.1 952.8 L1051.4 955.4 L1052.7 958.1 L1054.0 960.9 L1055.4 963.7 L1056.8 966.5 L1058.2 969.3 L1059.6 972.2 L1061.0 974.9 L1062.3 977.6 L1063.6 980.3 L1064.9 982.9 L1066.2 985.4 L1067.5 988.0 L1068.8 990.5 L1070.1 993.1 L1071.4 995.6 L1072.7 998.2 L1074.1 1000.8 L1075.4 1003.4 L1076.8 1006.0 L1078.1 1008.7 L1079.5 1011.3 L1080.9 1013.8 L1082.3 1016.4 L1083.8 1019.0 L1085.3 1021.6 L1086.8 1024.2 L1088.3 1026.8 L1089.8 1029.4 L1091.4 1032.0 L1093.0 1034.6 L1094.6 1037.2 L1096.2 1039.8 L1097.9 1042.4 L1099.6 1045.0 L1101.2 1047.6 L1102.9 1050.1 L1104.6 1052.7 L1106.3 1055.2 L1108.1 1057.7 L1109.8 1060.2 L1111.5 1062.7 L1113.3 1065.2 L1115.1 1067.6 L1116.9 1070.1 L1118.7 1072.5 L1120.5 1074.9 L1122.3 1077.3 L1124.2 1079.6 L1126.2 1082.0 L1128.1 1084.3 L1130.1 1086.6 L1132.1 1088.9 L1134.1 1091.2 L1136.2 1093.5 L1138.2 1095.7 L1140.3 1097.9 L1142.5 1100.2 L1144.6 1102.4 L1146.7 1104.6 L1148.9 1106.8 L1151.1 1109.0 L1153.3 1111.1 L1155.4 1113.3 L1157.6 1115.4 L1159.8 1117.6 L1162.0 1119.7 L1164.2 1121.8 L1166.4 1123.9 L1168.6 1126.1 L1170.9 1128.1 L1173.1 1130.2 L1175.3 1132.2 L1177.5 1134.2 L1179.8 1136.1 L1182.0 1138.0 L1184.3 1139.9 L1186.7 1141.7 L1189.0 1143.4 L1191.5 1145.2 L1194.0 1146.9 L1196.5 1148.5 L1199.0 1150.1 L1201.6 1151.7 L1204.2 1153.2 L1206.8 1154.7 L1209.4 1156.2 L1212.1 1157.6 L1214.7 1159.1 L1217.4 1160.5 L1220.1 1161.9 L1222.8 1163.3 L1225.6 1164.7 L1228.3 1166.1 L1231.0 1167.5 L1233.8 1168.8 L1236.6 1170.2 L1239.3 1171.5 L1242.1 1172.8 L1244.8 1174.1 L1247.6 1175.3 L1250.3 1176.6 L1253.1 1177.9 L1255.8 1179.1 L1258.6 1180.3 L1261.3 1181.6 L1264.1 1182.8 L1266.8 1184.1 L1269.6 1185.4 L1272.3 1186.7 L1275.1 1188.0 L1277.9 1189.4 L1280.6 1190.7 L1283.4 1192.1 L1286.1 1193.5 L1288.9 1194.8 L1291.7 1196.2 L1294.4 1197.5 L1297.2 1198.9 L1299.9 1200.2 L1302.7 1201.4 L1305.4 1202.7 L1308.2 1204.0 L1310.9 1205.2 L1313.7 1206.5 L1316.4 1207.7 L1319.2 1209.0 L1321.9 1210.3 L1324.7 1211.5 L1327.4 1212.8 L1330.2 1214.2 L1333.0 1215.5 L1335.7 1216.8 L1338.5 1218.2 L1341.2 1219.6 L1344.0 1220.9 L1346.7 1222.3 L1349.5 1223.7 L1352.2 1225.2 L1354.9 1226.6 L1357.6 1228.0 L1360.3 1229.5 L1363.0 1230.9 L1365.7 1232.4 L1368.3 1233.9 L1371.0 1235.4 L1373.7 1236.8 L1376.3 1238.3 L1379.0 1239.8 L1381.7 1241.3 L1384.3 1242.8 L1387.0 1244.3 L1389.7 1245.8 L1392.3 1247.2 L1395.0 1248.7 L1397.7 1250.2 L1400.3 1251.6 L1403.0 1253.1 L1405.7 1254.5 L1408.4 1255.9 L1411.1 1257.3 L1413.9 1258.7 L1416.6 1260.1 L1419.3 1261.5 L1422.1 1262.9 L1424.8 1264.2 L1427.6 1265.6 L1430.3 1267.0 L1433.1 1268.4 L1435.8 1269.8 L1438.5 1271.2 L1441.2 1272.6 L1443.9 1274.1 L1446.6 1275.5 L1449.3 1277.0 L1451.9 1278.5 L1454.6 1279.9 L1457.3 1281.4 L1459.9 1282.9 L1462.6 1284.4 L1465.3 1285.9 L1467.9 1287.3 L1470.6 1288.8 L1473.3 1290.3 L1475.9 1291.8 L1478.6 1293.2 L1481.2 1294.7 L1483.9 1296.2 L1486.6 1297.6 L1489.2 1299.1 L1491.9 1300.6 L1494.6 1302.0 L1497.2 1303.5 L1499.9 1304.9 L1502.6 1306.4 L1505.2 1307.8 L1507.9 1309.3 L1510.6 1310.8 L1513.2 1312.3 L1515.9 1313.8 L1518.5 1315.3 L1521.1 1316.8 L1523.7 1318.3 L1526.3 1319.9 L1528.9 1321.5 L1531.5 1323.0 L1534.1 1324.6 L1536.7 1326.2 L1539.3 1327.7 L1541.9 1329.2 L1544.6 1330.8 L1547.2 1332.3 L1549.9 1333.7 L1552.6 1335.2 L1555.4 1336.6 L1558.1 1338.0 L1560.9 1339.4 L1563.7 1340.7 L1566.5 1342.0 L1569.2 1343.3 L1572.1 1344.6 L1574.9 1345.8 L1577.7 1346.9 L1580.6 1348.1 L1583.5 1349.1 L1586.4 1350.2 L1589.3 1351.3 L1592.2 1352.3 L1595.1 1353.4 L1597.9 1354.5 L1600.8 1355.6 L1603.7 1356.7 L1606.6 1357.8 L1609.4 1359.0 L1612.3 1360.1 L1615.2 1361.3 L1618.0 1362.4 L1620.9 1363.5 L1623.7 1364.5 L1626.6 1365.5 L1629.4 1366.4 L1632.2 1367.3 L1635.1 1368.1 L1637.9 1368.9 L1640.8 1369.6 L1643.7 1370.3 L1646.6 1370.9 L1649.5 1371.5 L1652.5 1372.0 L1655.5 1372.5 L1658.5 1372.9 L1661.5 1373.3 L1664.4 1373.7 L1667.4 1374.0 L1670.5 1374.3 L1673.5 1374.6 L1676.6 1374.9 L1679.7 1375.2 L1682.8 1375.4 L1685.9 1375.7 L1688.9 1375.9 L1691.8 1376.2 L1694.6 1376.4 L1697.2 1376.6 L1700.3 1376.8 L1703.3 1377.1 L1706.1 1377.3 L1709.0 1377.5 L1712.3 1377.7 L1715.0 1377.8 L1718.1 1378.0 L1721.5 1378.1 L1725.1 1378.2 L1728.9 1378.3 L1732.5 1378.4 L1736.0 1378.4 L1739.2 1378.5 L1742.1 1378.6 L1744.8 1378.6 L1747.3 1378.6 L1750.5 1378.7 L1753.7 1378.7 L1756.9 1378.8 L1760.2 1378.8 L1762.7 1378.8 L1765.3 1378.9 L1768.0 1378.9 L1770.7 1378.9 L1773.4 1379.0 L1776.2 1379.0 L1779.0 1379.0 L1781.9 1379.1 L1784.8 1379.1 L1787.8 1379.1 L1790.7 1379.1 L1793.8 1379.2 L1796.8 1379.2 L1799.9 1379.2 L1803.1 1379.3 L1806.2 1379.3 L1809.4 1379.3 L1812.6 1379.3 L1815.9 1379.4 L1819.1 1379.4 L1822.4 1379.4 L1825.7 1379.4 L1829.0 1379.5 L1832.4 1379.5 L1835.7 1379.5 L1839.1 1379.5 L1842.5 1379.6 L1845.8 1379.6 L1849.2 1379.6 L1852.6 1379.6 L1856.0 1379.7 L1859.4 1379.7 L1862.8 1379.7 L1866.2 1379.7 L1869.7 1379.7 L1873.1 1379.8 L1876.4 1379.8 L1879.8 1379.8 L1883.2 1379.8 L1886.5 1379.8 L1889.8 1379.8 L1893.1 1379.9 L1896.3 1379.9 L1899.4 1379.9 L1902.5 1379.9 L1905.6 1379.9 L1908.6 1379.9 L1911.6 1379.9 L1914.6 1380.0 L1917.7 1380.0 L1920.8 1380.0 L1923.9 1380.0 L1927.1 1380.0 L1930.3 1380.0 L1933.6 1380.0 L1936.8 1380.0 L1940.2 1380.0 L1943.5 1380.0 L1946.9 1380.0 L1950.3 1380.1 L1953.7 1380.1 L1957.1 1380.1 L1960.6 1380.1 L1964.0 1380.1 L1967.5 1380.1 L1971.0 1380.1 L1974.5 1380.1 L1978.0 1380.1 L1981.5 1380.1 L1985.0 1380.1 L1988.5 1380.1 L1992.0 1380.1 L1995.5 1380.1 L1998.9 1380.1 L2002.4 1380.1 L2005.8 1380.1 L2009.3 1380.1 L2012.7 1380.1 L2016.1 1380.1 L2019.4 1380.1 L2022.7 1380.1 L2026.0 1380.2 L2029.3 1380.2 L2032.5 1380.2 L2035.7 1380.2 L2038.9 1380.2 L2042.0 1380.2 L2045.1 1380.2 L2048.1 1380.2 L2051.0 1380.2 L2054.0 1380.2 L2056.8 1380.2 L2059.6 1380.2 L2062.4 1380.2 L2065.0 1380.2 L2067.7 1380.2 L2070.2 1380.2 L2073.5 1380.2 L2076.6 1380.2 L2079.7 1380.2 L2082.5 1380.2 L2085.3 1380.2 L2087.9 1380.2 L2090.9 1380.2 L2093.8 1380.2 L2095.0 1380.2"/>
<path id="c_green" d="M326.9 70.0 L327.0 72.7 L327.1 75.6 L327.1 78.7 L327.2 82.1 L327.3 84.8 L327.4 87.6 L327.5 90.6 L327.6 93.8 L327.6 97.1 L327.7 100.4 L327.8 103.9 L327.9 107.4 L328.0 110.8 L328.1 114.2 L328.2 117.5 L328.3 120.6 L328.4 123.7 L328.5 126.6 L328.6 129.5 L328.7 132.4 L328.8 135.2 L328.9 138.1 L328.9 141.0 L329.0 144.0 L329.1 147.0 L329.2 150.0 L329.3 153.1 L329.4 156.1 L329.5 159.3 L329.6 162.4 L329.7 165.5 L329.8 168.7 L329.9 171.9 L330.0 175.0 L330.1 178.2 L330.2 181.4 L330.3 184.5 L330.4 187.6 L330.5 190.7 L330.6 193.8 L330.7 196.9 L330.8 199.9 L330.9 202.9 L331.0 206.0 L331.1 209.0 L331.2 212.0 L331.2 215.0 L331.3 218.0 L331.4 220.9 L331.5 223.9 L331.6 226.9 L331.7 229.9 L331.8 232.9 L331.9 235.9 L332.0 238.9 L332.0 241.9 L332.1 244.9 L332.2 247.9 L332.3 250.9 L332.4 253.9 L332.5 256.9 L332.6 259.9 L332.7 262.9 L332.8 265.9 L332.9 268.9 L332.9 271.9 L333.0 274.9 L333.1 278.0 L333.2 281.0 L333.3 284.0 L333.4 287.0 L333.5 290.0 L333.6 293.1 L333.7 296.1 L333.8 299.2 L333.9 302.3 L334.0 305.3 L334.0 308.4 L334.1 311.5 L334.2 314.6 L334.3 317.6 L334.4 320.7 L334.5 323.8 L334.6 326.8 L334.7 329.8 L334.8 332.9 L334.9 335.9 L335.0 338.9 L335.1 341.8 L335.2 344.8 L335.4 347.7 L335.5 350.7 L335.6 353.6 L335.8 356.5 L335.9 359.5 L336.1 362.5 L336.2 365.5 L336.4 368.6 L336.6 371.7 L336.8 374.7 L337.0 377.8 L337.2 380.9 L337.4 383.9 L337.6 387.0 L337.8 390.0 L338.0 392.9 L338.2 395.9 L338.5 398.8 L338.7 401.8 L338.9 404.7 L339.2 407.6 L339.4 410.5 L339.6 413.4 L339.9 416.3 L340.1 419.3 L340.4 422.2 L340.6 425.1 L340.8 428.1 L341.1 431.1 L341.3 434.0 L341.6 437.0 L341.8 440.0 L342.1 442.9 L342.3 445.9 L342.5 448.9 L342.8 451.8 L343.0 454.8 L343.3 457.7 L343.6 460.7 L343.8 463.7 L344.1 466.6 L344.3 469.6 L344.6 472.6 L344.9 475.6 L345.1 478.6 L345.4 481.7 L345.7 484.7 L346.0 487.7 L346.3 490.8 L346.6 493.9 L346.9 496.9 L347.2 500.0 L347.5 503.1 L347.9 506.2 L348.2 509.4 L348.6 512.6 L348.9 515.8 L349.3 519.1 L349.6 522.3 L350.0 525.6 L350.3 528.9 L350.7 532.2 L351.1 535.4 L351.4 538.6 L351.8 541.8 L352.2 544.9 L352.5 548.0 L352.9 551.0 L353.2 554.0 L353.5 556.9 L353.9 559.7 L354.2 562.5 L354.5 565.4 L354.8 568.4 L355.2 571.4 L355.5 574.5 L355.9 577.6 L356.2 580.7 L356.6 583.8 L356.9 586.7 L357.3 589.5 L357.6 592.3 L358.0 595.0 L358.3 597.7 L358.8 600.4 L359.2 603.3 L359.7 606.1 L360.1 609.0 L360.7 612.0 L361.2 614.9 L361.8 617.9 L362.4 620.9 L363.1 623.9 L363.7 626.9 L364.5 629.8 L365.2 632.8 L366.0 635.7 L366.8 638.7 L367.6 641.6 L368.5 644.5 L369.4 647.4 L370.4 650.3 L371.3 653.2 L372.4 656.1 L373.4 659.0 L374.5 661.9 L375.7 664.7 L376.8 667.6 L378.1 670.5 L379.3 673.3 L380.7 676.1 L382.1 678.8 L383.5 681.5 L385.0 684.2 L386.6 686.9 L388.3 689.5 L390.0 692.0 L391.9 694.5 L393.7 697.0 L395.7 699.3 L397.7 701.6 L399.7 703.7 L401.8 705.8 L404.0 707.9 L406.2 709.9 L408.4 711.8 L410.7 713.7 L413.1 715.6 L415.4 717.5 L417.8 719.4 L420.2 721.3 L422.7 723.2 L425.2 725.1 L427.7 726.9 L430.2 728.8 L432.7 730.6 L435.3 732.4 L437.8 734.2 L440.4 735.9 L442.9 737.6 L445.5 739.3 L448.0 741.0 L450.6 742.6 L453.1 744.3 L455.6 746.0 L458.1 747.7 L460.6 749.4 L463.0 751.1 L465.5 752.9 L467.9 754.8 L470.2 756.6 L472.6 758.5 L475.0 760.4 L477.3 762.4 L479.6 764.3 L481.9 766.3 L484.2 768.4 L486.4 770.4 L488.6 772.5 L490.8 774.6 L493.0 776.7 L495.2 778.8 L497.3 781.0 L499.5 783.2 L501.6 785.4 L503.7 787.5 L505.8 789.7 L507.9 791.9 L510.0 794.0 L512.1 796.2 L514.1 798.4 L516.2 800.5 L518.2 802.7 L520.2 805.0 L522.2 807.2 L524.2 809.5 L526.1 811.9 L528.1 814.2 L529.9 816.6 L531.8 819.1 L533.6 821.5 L535.3 824.0 L537.1 826.5 L538.8 829.1 L540.5 831.7 L542.2 834.2 L543.9 836.8 L545.6 839.4 L547.3 841.9 L549.0 844.5 L550.7 847.0 L552.4 849.6 L554.1 852.2 L555.9 854.7 L557.7 857.3 L559.5 859.9 L561.3 862.4 L563.0 864.9 L564.8 867.3 L566.7 869.7 L568.5 872.0 L570.5 874.3 L572.5 876.5 L574.5 878.7 L576.7 880.9 L578.9 882.9 L581.2 884.9 L583.5 886.8 L585.9 888.6 L588.4 890.3 L590.9 891.9 L593.5 893.3 L596.2 894.7 L598.9 895.9 L601.7 897.0 L604.5 897.9 L607.4 898.7 L610.4 899.3 L613.4 899.8 L616.4 900.2 L619.5 900.4 L622.6 900.5 L625.7 900.4 L628.8 900.3 L631.8 900.0 L634.8 899.5 L637.8 898.9 L640.7 898.2 L643.5 897.3 L646.3 896.3 L649.0 895.2 L651.7 894.0 L654.4 892.8 L657.0 891.5 L659.7 890.2 L662.3 889.0 L665.0 887.7 L667.7 886.5 L670.4 885.3 L673.1 884.2 L675.8 883.0 L678.6 881.9 L681.5 880.8 L684.4 879.7 L687.3 878.6 L690.3 877.6 L693.2 876.5 L696.1 875.5 L699.0 874.5 L701.8 873.5 L704.7 872.5 L707.5 871.6 L710.4 870.6 L713.3 869.7 L716.2 868.7 L719.2 867.7 L722.2 866.8 L725.2 865.8 L728.2 864.8 L731.2 863.9 L734.3 862.9 L737.3 861.9 L740.3 861.0 L743.4 860.0 L746.4 859.1 L749.5 858.1 L752.6 857.2 L755.7 856.2 L758.8 855.3 L761.9 854.4 L764.9 853.5 L767.9 852.6 L770.8 851.7 L773.7 850.9 L776.5 850.0 L779.3 849.2 L782.0 848.4 L784.8 847.7 L787.5 847.0 L790.2 846.2 L792.9 845.5 L795.6 844.8 L798.4 844.1 L801.2 843.4 L804.1 842.7 L806.9 842.0 L809.8 841.3 L812.8 840.5 L815.7 839.8 L818.7 839.0 L821.8 838.3 L824.9 837.5 L828.1 836.6 L831.4 835.8 L834.6 835.0 L837.8 834.2 L841.0 833.4 L844.2 832.6 L847.3 831.8 L850.3 831.0 L853.4 830.3 L856.4 829.5 L859.4 828.8 L862.4 828.0 L865.5 827.3 L868.5 826.5 L871.4 825.8 L874.3 825.1 L877.1 824.4 L879.9 823.8 L882.6 823.1 L885.4 822.4 L888.2 821.6 L891.0 820.9 L893.8 820.1 L896.7 819.3 L899.7 818.4 L902.6 817.6 L905.5 816.6 L908.4 815.7 L911.3 814.7 L914.2 813.7 L917.1 812.6 L919.9 811.5 L922.7 810.3 L925.5 809.2 L928.2 807.9 L931.0 806.7 L933.7 805.4 L936.5 804.1 L939.2 802.8 L942.0 801.5 L944.7 800.2 L947.5 798.8 L950.3 797.5 L953.0 796.1 L955.8 794.7 L958.5 793.3 L961.3 792.0 L964.1 790.6 L966.8 789.2 L969.6 787.8 L972.3 786.5 L975.1 785.1 L977.9 783.7 L980.6 782.4 L983.4 781.0 L986.1 779.6 L988.9 778.2 L991.6 776.8 L994.3 775.4 L997.0 773.9 L999.7 772.3 L1002.3 770.8 L1004.9 769.1 L1007.5 767.5 L1010.1 765.8 L1012.7 764.2 L1015.3 762.5 L1017.9 760.8 L1020.4 759.1 L1023.0 757.4 L1025.6 755.7 L1028.2 754.0 L1030.8 752.3 L1033.4 750.6 L1035.9 748.9 L1038.5 747.3 L1041.1 745.6 L1043.7 743.9 L1046.3 742.2 L1048.8 740.5 L1051.4 738.8 L1054.0 737.1 L1056.5 735.4 L1059.0 733.7 L1061.6 731.9 L1064.1 730.2 L1066.6 728.4 L1069.1 726.6 L1071.6 724.9 L1074.1 723.1 L1076.6 721.3 L1079.1 719.5 L1081.6 717.8 L1084.1 716.0 L1086.6 714.2 L1089.1 712.4 L1091.6 710.6 L1094.1 708.8 L1096.7 707.0 L1099.2 705.3 L1101.7 703.6 L1104.3 701.9 L1106.9 700.3 L1109.5 698.7 L1112.1 697.1 L1114.8 695.6 L1117.5 694.2 L1120.3 692.7 L1123.0 691.3 L1125.8 690.0 L1128.6 688.7 L1131.3 687.4 L1134.1 686.2 L1136.9 685.0 L1139.7 683.8 L1142.6 682.7 L1145.4 681.6 L1148.3 680.6 L1151.1 679.6 L1154.0 678.6 L1156.9 677.8 L1159.8 677.0 L1162.7 676.3 L1165.7 675.7 L1168.7 675.2 L1171.7 674.7 L1174.8 674.4 L1177.8 674.1 L1180.9 673.8 L1183.9 673.7 L1187.0 673.6 L1190.1 673.5 L1193.1 673.5 L1196.2 673.6 L1199.2 673.7 L1202.3 673.9 L1205.3 674.1 L1208.4 674.4 L1211.4 674.8 L1214.4 675.3 L1217.4 675.8 L1220.4 676.4 L1223.4 677.1 L1226.4 677.9 L1229.3 678.7 L1232.3 679.6 L1235.2 680.6 L1238.1 681.6 L1241.0 682.7 L1243.9 683.8 L1246.7 685.0 L1249.5 686.3 L1252.2 687.6 L1254.9 688.9 L1257.6 690.3 L1260.3 691.8 L1262.9 693.3 L1265.6 694.9 L1268.1 696.5 L1270.7 698.3 L1273.2 700.0 L1275.6 701.9 L1278.0 703.7 L1280.3 705.7 L1282.6 707.6 L1284.9 709.7 L1287.1 711.7 L1289.3 713.8 L1291.5 716.0 L1293.7 718.2 L1295.8 720.4 L1297.9 722.6 L1300.0 724.8 L1302.0 727.1 L1304.0 729.3 L1305.9 731.6 L1307.8 733.9 L1309.7 736.3 L1311.5 738.7 L1313.3 741.1 L1315.1 743.5 L1316.9 746.0 L1318.6 748.5 L1320.3 751.0 L1322.0 753.5 L1323.6 756.1 L1325.2 758.6 L1326.7 761.1 L1328.3 763.7 L1329.8 766.3 L1331.3 768.9 L1332.8 771.5 L1334.3 774.1 L1335.7 776.8 L1337.2 779.5 L1338.7 782.2 L1340.2 784.9 L1341.6 787.6 L1343.1 790.3 L1344.5 793.0 L1345.9 795.7 L1347.4 798.4 L1348.8 801.1 L1350.2 803.8 L1351.6 806.5 L1352.9 809.2 L1354.3 811.9 L1355.7 814.6 L1357.1 817.4 L1358.5 820.1 L1359.9 822.8 L1361.3 825.6 L1362.6 828.3 L1364.0 831.0 L1365.4 833.8 L1366.8 836.5 L1368.2 839.2 L1369.6 841.9 L1371.0 844.6 L1372.3 847.3 L1373.7 850.0 L1375.1 852.7 L1376.5 855.4 L1377.9 858.1 L1379.3 860.9 L1380.7 863.6 L1382.0 866.3 L1383.4 869.0 L1384.8 871.7 L1386.2 874.4 L1387.6 877.2 L1388.9 879.9 L1390.3 882.6 L1391.7 885.3 L1393.0 888.0 L1394.4 890.7 L1395.7 893.5 L1397.1 896.2 L1398.5 898.9 L1399.8 901.6 L1401.2 904.4 L1402.5 907.1 L1403.9 909.8 L1405.2 912.5 L1406.6 915.3 L1407.9 918.0 L1409.3 920.7 L1410.6 923.4 L1412.0 926.1 L1413.4 928.8 L1414.7 931.5 L1416.1 934.2 L1417.4 936.9 L1418.8 939.6 L1420.1 942.3 L1421.5 945.0 L1422.8 947.7 L1424.2 950.4 L1425.5 953.1 L1426.9 955.8 L1428.2 958.5 L1429.6 961.2 L1431.0 963.9 L1432.4 966.7 L1433.9 969.5 L1435.4 972.3 L1436.8 975.1 L1438.4 978.0 L1439.9 980.8 L1441.4 983.7 L1442.9 986.5 L1444.3 989.3 L1445.8 992.0 L1447.2 994.7 L1448.6 997.3 L1449.9 999.8 L1451.3 1002.4 L1452.6 1004.9 L1453.9 1007.4 L1455.2 1009.9 L1456.5 1012.4 L1457.8 1014.9 L1459.1 1017.4 L1460.4 1019.9 L1461.7 1022.4 L1463.0 1024.9 L1464.3 1027.4 L1465.6 1030.0 L1466.9 1032.6 L1468.3 1035.2 L1469.7 1037.9 L1471.1 1040.6 L1472.6 1043.4 L1474.0 1046.2 L1475.5 1049.1 L1477.0 1052.0 L1478.5 1054.9 L1479.9 1057.7 L1481.4 1060.5 L1482.8 1063.3 L1484.2 1066.1 L1485.5 1068.8 L1486.9 1071.6 L1488.3 1074.3 L1489.6 1077.0 L1490.9 1079.7 L1492.3 1082.4 L1493.6 1085.1 L1494.9 1087.8 L1496.2 1090.5 L1497.6 1093.2 L1498.9 1095.9 L1500.2 1098.6 L1501.6 1101.3 L1502.9 1104.0 L1504.2 1106.7 L1505.6 1109.4 L1506.9 1112.2 L1508.3 1114.9 L1509.6 1117.6 L1511.0 1120.3 L1512.3 1123.0 L1513.7 1125.8 L1515.0 1128.5 L1516.4 1131.2 L1517.8 1133.9 L1519.1 1136.6 L1520.5 1139.4 L1521.8 1142.1 L1523.2 1144.8 L1524.5 1147.5 L1525.9 1150.2 L1527.3 1152.9 L1528.6 1155.6 L1530.0 1158.3 L1531.3 1161.0 L1532.7 1163.7 L1534.0 1166.5 L1535.4 1169.2 L1536.7 1171.9 L1538.1 1174.6 L1539.5 1177.3 L1540.8 1179.9 L1542.2 1182.6 L1543.5 1185.3 L1544.9 1188.0 L1546.3 1190.7 L1547.7 1193.4 L1549.1 1196.1 L1550.5 1198.8 L1551.9 1201.5 L1553.3 1204.3 L1554.8 1207.0 L1556.2 1209.8 L1557.7 1212.5 L1559.1 1215.2 L1560.6 1217.9 L1562.0 1220.6 L1563.5 1223.3 L1564.9 1226.0 L1566.4 1228.7 L1567.9 1231.3 L1569.5 1234.0 L1571.1 1236.8 L1572.7 1239.5 L1574.3 1242.3 L1576.0 1245.1 L1577.7 1247.9 L1579.4 1250.7 L1581.1 1253.4 L1582.8 1256.1 L1584.5 1258.7 L1586.1 1261.3 L1587.7 1263.8 L1589.3 1266.3 L1591.0 1268.7 L1592.6 1271.1 L1594.3 1273.5 L1596.0 1275.9 L1597.7 1278.3 L1599.4 1280.7 L1601.2 1283.1 L1603.0 1285.4 L1604.9 1287.8 L1606.7 1290.3 L1608.7 1292.7 L1610.6 1295.2 L1612.6 1297.6 L1614.6 1300.0 L1616.6 1302.4 L1618.7 1304.7 L1620.8 1307.0 L1622.9 1309.2 L1625.0 1311.4 L1627.1 1313.6 L1629.3 1315.7 L1631.6 1317.7 L1633.8 1319.7 L1636.1 1321.7 L1638.5 1323.6 L1640.9 1325.4 L1643.3 1327.2 L1645.8 1329.0 L1648.3 1330.7 L1650.9 1332.4 L1653.6 1334.0 L1656.2 1335.6 L1658.9 1337.1 L1661.7 1338.6 L1664.4 1340.1 L1667.2 1341.5 L1670.1 1342.8 L1672.9 1344.1 L1675.8 1345.3 L1678.7 1346.5 L1681.6 1347.5 L1684.5 1348.6 L1687.4 1349.5 L1690.3 1350.4 L1693.2 1351.3 L1696.2 1352.1 L1699.1 1352.9 L1702.1 1353.6 L1705.0 1354.4 L1708.0 1355.1 L1710.9 1355.7 L1713.9 1356.4 L1716.8 1357.0 L1719.8 1357.6 L1722.7 1358.2 L1725.7 1358.7 L1728.6 1359.2 L1731.6 1359.6 L1734.6 1360.1 L1737.6 1360.4 L1740.5 1360.8 L1743.4 1361.1 L1746.3 1361.4 L1749.2 1361.7 L1752.2 1362.0 L1755.2 1362.2 L1758.2 1362.5 L1761.3 1362.7 L1764.5 1363.0 L1767.7 1363.2 L1770.9 1363.5 L1774.1 1363.7 L1777.2 1364.0 L1780.3 1364.2 L1783.3 1364.4 L1786.2 1364.6 L1789.1 1364.8 L1792.0 1365.0 L1794.9 1365.2 L1797.9 1365.4 L1800.8 1365.6 L1803.8 1365.8 L1806.9 1366.0 L1809.9 1366.2 L1813.0 1366.4 L1816.1 1366.6 L1819.3 1366.7 L1822.4 1366.9 L1825.5 1367.1 L1828.6 1367.2 L1831.7 1367.4 L1834.7 1367.5 L1837.6 1367.6 L1840.5 1367.7 L1843.4 1367.8 L1846.2 1367.9 L1849.0 1368.0 L1851.8 1368.0 L1854.6 1368.1 L1857.4 1368.2 L1860.2 1368.2 L1863.1 1368.3 L1866.0 1368.3 L1869.0 1368.4 L1872.0 1368.4 L1875.1 1368.5 L1878.3 1368.5 L1881.5 1368.6 L1884.8 1368.7 L1888.1 1368.7 L1891.3 1368.8 L1894.6 1368.8 L1897.8 1368.9 L1900.8 1368.9 L1903.8 1369.0 L1906.7 1369.0 L1909.6 1369.1 L1912.4 1369.1 L1915.2 1369.2 L1918.1 1369.2 L1920.9 1369.2 L1923.9 1369.3 L1926.8 1369.3 L1929.8 1369.4 L1932.8 1369.4 L1935.8 1369.5 L1938.9 1369.5 L1942.0 1369.6 L1945.1 1369.6 L1948.2 1369.7 L1951.4 1369.7 L1954.5 1369.8 L1957.7 1369.8 L1960.8 1369.8 L1964.0 1369.9 L1967.1 1369.9 L1970.3 1370.0 L1973.4 1370.0 L1976.6 1370.1 L1979.7 1370.1 L1982.8 1370.2 L1985.9 1370.2 L1989.0 1370.2 L1992.0 1370.3 L1995.1 1370.3 L1998.2 1370.4 L2001.3 1370.4 L2004.5 1370.5 L2007.7 1370.5 L2010.9 1370.5 L2014.2 1370.6 L2017.6 1370.6 L2021.0 1370.7 L2024.4 1370.7 L2027.8 1370.8 L2031.3 1370.8 L2034.8 1370.9 L2038.2 1370.9 L2041.7 1370.9 L2045.1 1371.0 L2048.5 1371.0 L2051.9 1371.1 L2055.2 1371.1 L2058.4 1371.2 L2061.6 1371.2 L2064.8 1371.2 L2067.8 1371.3 L2070.8 1371.3 L2073.6 1371.3 L2076.4 1371.4 L2079.1 1371.4 L2081.6 1371.4 L2084.8 1371.5 L2087.7 1371.5 L2090.5 1371.5 L2093.1 1371.6 L2095.0 1371.6"/>
<path id="c_blue" d="M336.3 109.0 L336.5 112.1 L336.7 115.4 L336.8 118.0 L337.0 120.8 L337.1 123.8 L337.3 126.9 L337.5 130.1 L337.6 133.4 L337.8 136.6 L338.0 139.7 L338.1 142.7 L338.2 145.7 L338.4 148.6 L338.5 151.4 L338.6 154.3 L338.7 157.2 L338.8 160.2 L338.9 163.1 L339.0 166.2 L339.2 169.3 L339.3 172.4 L339.4 175.6 L339.5 178.8 L339.7 182.0 L339.8 185.1 L339.9 188.2 L340.1 191.3 L340.2 194.3 L340.3 197.2 L340.4 200.2 L340.6 203.1 L340.7 206.0 L340.8 208.9 L341.0 211.9 L341.1 214.9 L341.2 217.9 L341.4 221.0 L341.5 224.0 L341.6 227.1 L341.8 230.2 L341.9 233.3 L342.1 236.4 L342.2 239.5 L342.4 242.6 L342.5 245.7 L342.7 248.7 L342.8 251.8 L343.0 254.8 L343.2 257.9 L343.3 260.9 L343.5 263.9 L343.6 266.9 L343.8 269.8 L343.9 272.8 L344.1 275.8 L344.3 278.8 L344.4 281.9 L344.6 284.9 L344.8 287.9 L344.9 290.9 L345.1 293.9 L345.3 296.9 L345.5 300.0 L345.6 303.0 L345.8 306.0 L346.0 309.0 L346.2 312.0 L346.4 315.0 L346.7 318.0 L346.9 321.0 L347.1 324.0 L347.3 327.0 L347.6 330.0 L347.8 333.0 L348.0 336.1 L348.3 339.1 L348.5 342.1 L348.8 345.1 L349.1 348.1 L349.3 351.1 L349.6 354.1 L349.9 357.1 L350.1 360.1 L350.4 363.0 L350.7 366.0 L351.0 369.0 L351.3 372.0 L351.6 375.0 L352.0 378.0 L352.3 381.0 L352.6 384.0 L353.0 387.0 L353.3 390.0 L353.7 393.0 L354.0 396.0 L354.4 399.0 L354.8 402.0 L355.2 405.0 L355.5 408.0 L355.9 411.0 L356.3 414.0 L356.7 417.0 L357.1 420.1 L357.5 423.1 L358.0 426.1 L358.4 429.1 L358.9 432.1 L359.3 435.1 L359.8 438.1 L360.3 441.1 L360.8 444.1 L361.3 447.0 L361.8 450.0 L362.3 453.0 L362.9 456.0 L363.4 459.0 L364.0 462.0 L364.6 465.0 L365.1 468.0 L365.7 471.0 L366.3 474.0 L366.9 477.0 L367.6 480.0 L368.2 483.1 L368.8 486.1 L369.5 489.1 L370.2 492.0 L370.9 495.0 L371.6 498.0 L372.3 500.9 L373.1 503.9 L373.8 506.8 L374.6 509.7 L375.4 512.6 L376.3 515.5 L377.2 518.3 L378.1 521.2 L379.0 524.1 L380.0 527.0 L381.0 529.8 L382.1 532.7 L383.1 535.5 L384.2 538.4 L385.4 541.2 L386.5 544.0 L387.7 546.8 L388.9 549.5 L390.1 552.3 L391.4 555.0 L392.6 557.8 L393.9 560.5 L395.2 563.2 L396.5 566.0 L397.9 568.7 L399.2 571.4 L400.6 574.1 L402.0 576.8 L403.3 579.5 L404.7 582.2 L406.1 584.9 L407.6 587.5 L409.0 590.1 L410.5 592.8 L411.9 595.4 L413.4 598.0 L415.0 600.6 L416.5 603.2 L418.0 605.8 L419.6 608.4 L421.1 611.0 L422.7 613.6 L424.3 616.2 L425.8 618.8 L427.4 621.4 L429.0 624.0 L430.5 626.6 L432.1 629.3 L433.6 631.9 L435.1 634.5 L436.7 637.1 L438.2 639.8 L439.7 642.4 L441.2 645.0 L442.7 647.6 L444.1 650.3 L445.6 652.9 L447.1 655.5 L448.6 658.2 L450.1 660.8 L451.5 663.5 L453.0 666.1 L454.5 668.8 L456.0 671.4 L457.4 674.1 L458.9 676.7 L460.3 679.4 L461.8 682.1 L463.2 684.8 L464.6 687.5 L466.1 690.2 L467.5 692.9 L468.9 695.6 L470.3 698.3 L471.6 701.0 L473.0 703.7 L474.4 706.4 L475.8 709.1 L477.1 711.8 L478.5 714.5 L479.8 717.2 L481.2 720.0 L482.5 722.7 L483.8 725.4 L485.2 728.2 L486.5 730.9 L487.8 733.7 L489.1 736.4 L490.4 739.2 L491.7 742.0 L493.0 744.7 L494.2 747.5 L495.5 750.2 L496.7 753.0 L497.9 755.8 L499.2 758.5 L500.4 761.3 L501.6 764.1 L502.7 766.9 L503.9 769.7 L505.1 772.5 L506.2 775.3 L507.3 778.1 L508.5 780.9 L509.6 783.7 L510.7 786.5 L511.8 789.3 L512.9 792.1 L514.0 794.9 L515.0 797.7 L516.1 800.5 L517.2 803.3 L518.3 806.1 L519.3 808.9 L520.4 811.7 L521.5 814.5 L522.6 817.3 L523.7 820.1 L524.7 822.9 L525.8 825.7 L526.9 828.5 L528.0 831.4 L529.1 834.2 L530.2 837.0 L531.2 839.8 L532.3 842.6 L533.4 845.4 L534.5 848.2 L535.5 851.1 L536.6 853.9 L537.7 856.7 L538.7 859.5 L539.8 862.3 L540.8 865.1 L541.9 867.9 L543.0 870.8 L544.0 873.6 L545.0 876.4 L546.1 879.2 L547.1 882.1 L548.1 884.9 L549.2 887.8 L550.2 890.6 L551.2 893.5 L552.2 896.3 L553.2 899.2 L554.1 902.1 L555.1 904.9 L556.1 907.8 L557.1 910.7 L558.1 913.6 L559.0 916.4 L560.0 919.3 L561.0 922.1 L562.0 925.0 L563.1 927.8 L564.1 930.7 L565.1 933.5 L566.2 936.3 L567.3 939.1 L568.4 941.9 L569.5 944.7 L570.6 947.5 L571.7 950.4 L572.9 953.2 L574.0 956.0 L575.2 958.8 L576.3 961.7 L577.5 964.5 L578.6 967.3 L579.8 970.1 L581.0 972.9 L582.3 975.7 L583.5 978.4 L584.8 981.2 L586.1 983.9 L587.5 986.6 L588.9 989.2 L590.4 991.9 L591.9 994.5 L593.5 997.1 L595.1 999.6 L596.8 1002.1 L598.5 1004.6 L600.3 1007.0 L602.1 1009.4 L603.9 1011.8 L605.8 1014.2 L607.7 1016.6 L609.7 1018.9 L611.7 1021.2 L613.8 1023.5 L615.9 1025.8 L618.0 1028.1 L620.2 1030.3 L622.4 1032.4 L624.6 1034.6 L626.9 1036.6 L629.2 1038.6 L631.5 1040.6 L633.9 1042.5 L636.3 1044.3 L638.7 1046.0 L641.2 1047.7 L643.7 1049.3 L646.2 1050.7 L648.8 1052.1 L651.4 1053.5 L654.1 1054.7 L656.9 1055.8 L659.6 1056.9 L662.5 1057.9 L665.3 1058.8 L668.2 1059.7 L671.2 1060.5 L674.1 1061.2 L677.1 1061.9 L680.1 1062.5 L683.1 1063.1 L686.2 1063.6 L689.2 1064.1 L692.3 1064.6 L695.3 1065.1 L698.3 1065.6 L701.4 1066.0 L704.4 1066.5 L707.4 1066.9 L710.4 1067.3 L713.4 1067.7 L716.4 1068.1 L719.4 1068.5 L722.4 1068.8 L725.4 1069.1 L728.4 1069.4 L731.4 1069.7 L734.4 1069.9 L737.4 1070.2 L740.4 1070.4 L743.4 1070.5 L746.4 1070.7 L749.4 1070.8 L752.4 1071.0 L755.4 1071.1 L758.4 1071.2 L761.4 1071.2 L764.4 1071.3 L767.4 1071.3 L770.4 1071.4 L773.4 1071.4 L776.4 1071.4 L779.4 1071.4 L782.4 1071.4 L785.4 1071.4 L788.5 1071.3 L791.5 1071.3 L794.5 1071.2 L797.5 1071.1 L800.5 1071.0 L803.5 1070.9 L806.5 1070.7 L809.5 1070.6 L812.5 1070.4 L815.5 1070.2 L818.5 1070.1 L821.5 1069.9 L824.5 1069.7 L827.5 1069.4 L830.5 1069.2 L833.5 1069.0 L836.5 1068.8 L839.5 1068.6 L842.5 1068.4 L845.5 1068.1 L848.5 1067.9 L851.5 1067.7 L854.5 1067.5 L857.6 1067.3 L860.6 1067.0 L863.6 1066.8 L866.6 1066.6 L869.6 1066.4 L872.6 1066.1 L875.7 1065.9 L878.7 1065.6 L881.7 1065.3 L884.7 1065.0 L887.7 1064.7 L890.7 1064.3 L893.7 1064.0 L896.7 1063.6 L899.7 1063.2 L902.7 1062.7 L905.7 1062.2 L908.7 1061.7 L911.6 1061.2 L914.6 1060.6 L917.5 1060.0 L920.5 1059.4 L923.4 1058.7 L926.3 1058.0 L929.2 1057.3 L932.2 1056.6 L935.1 1055.9 L938.0 1055.1 L940.9 1054.3 L943.8 1053.5 L946.7 1052.7 L949.6 1051.8 L952.5 1051.0 L955.4 1050.1 L958.3 1049.2 L961.2 1048.3 L964.1 1047.4 L966.9 1046.5 L969.8 1045.6 L972.7 1044.7 L975.5 1043.7 L978.4 1042.8 L981.2 1041.8 L984.1 1040.8 L986.9 1039.8 L989.7 1038.8 L992.6 1037.7 L995.4 1036.7 L998.2 1035.6 L1001.0 1034.5 L1003.8 1033.4 L1006.6 1032.3 L1009.4 1031.2 L1012.2 1030.1 L1015.0 1029.0 L1017.8 1027.9 L1020.6 1026.8 L1023.4 1025.7 L1026.2 1024.6 L1029.0 1023.5 L1031.9 1022.5 L1034.7 1021.4 L1037.5 1020.3 L1040.3 1019.2 L1043.2 1018.2 L1046.0 1017.1 L1048.8 1016.0 L1051.6 1014.9 L1054.5 1013.9 L1057.3 1012.8 L1060.1 1011.7 L1063.0 1010.7 L1065.8 1009.6 L1068.6 1008.5 L1071.5 1007.5 L1074.3 1006.4 L1077.2 1005.4 L1080.0 1004.4 L1082.9 1003.4 L1085.8 1002.4 L1088.7 1001.4 L1091.6 1000.5 L1094.5 999.6 L1097.4 998.7 L1100.3 997.8 L1103.2 996.9 L1106.1 996.0 L1109.0 995.2 L1111.9 994.3 L1114.8 993.5 L1117.8 992.7 L1120.7 991.9 L1123.6 991.0 L1126.6 990.3 L1129.6 989.5 L1132.5 988.7 L1135.5 988.0 L1138.4 987.3 L1141.4 986.7 L1144.4 986.0 L1147.4 985.4 L1150.3 984.9 L1153.3 984.4 L1156.2 983.9 L1159.2 983.5 L1162.2 983.1 L1165.1 982.8 L1168.1 982.5 L1171.1 982.3 L1174.2 982.1 L1177.2 982.0 L1180.2 981.9 L1183.3 981.8 L1186.3 981.8 L1189.4 981.9 L1192.4 981.9 L1195.5 982.0 L1198.5 982.2 L1201.5 982.4 L1204.6 982.6 L1207.6 982.9 L1210.6 983.2 L1213.6 983.6 L1216.6 984.0 L1219.5 984.4 L1222.5 984.9 L1225.4 985.4 L1228.4 985.9 L1231.3 986.5 L1234.3 987.1 L1237.2 987.8 L1240.1 988.5 L1243.0 989.2 L1245.9 990.0 L1248.8 990.8 L1251.7 991.6 L1254.6 992.5 L1257.5 993.5 L1260.3 994.4 L1263.2 995.4 L1266.0 996.5 L1268.8 997.6 L1271.6 998.7 L1274.4 999.9 L1277.1 1001.1 L1279.9 1002.4 L1282.6 1003.7 L1285.3 1005.0 L1287.9 1006.4 L1290.6 1007.8 L1293.2 1009.3 L1295.7 1010.8 L1298.3 1012.3 L1300.8 1013.9 L1303.3 1015.5 L1305.8 1017.2 L1308.2 1018.9 L1310.6 1020.6 L1313.0 1022.4 L1315.4 1024.3 L1317.8 1026.1 L1320.2 1028.0 L1322.5 1029.9 L1324.9 1031.9 L1327.2 1033.8 L1329.5 1035.8 L1331.8 1037.8 L1334.1 1039.8 L1336.3 1041.8 L1338.6 1043.8 L1340.8 1045.9 L1343.0 1047.9 L1345.3 1049.9 L1347.5 1052.0 L1349.6 1054.1 L1351.8 1056.2 L1353.9 1058.3 L1356.1 1060.5 L1358.2 1062.6 L1360.3 1064.8 L1362.3 1067.0 L1364.4 1069.2 L1366.5 1071.5 L1368.5 1073.7 L1370.6 1075.9 L1372.6 1078.2 L1374.7 1080.4 L1376.7 1082.6 L1378.8 1084.9 L1380.8 1087.1 L1382.9 1089.4 L1384.9 1091.6 L1387.0 1093.8 L1389.0 1096.0 L1391.1 1098.2 L1393.2 1100.4 L1395.3 1102.6 L1397.4 1104.7 L1399.4 1106.9 L1401.5 1109.1 L1403.6 1111.2 L1405.7 1113.4 L1407.8 1115.5 L1409.9 1117.7 L1412.0 1119.9 L1414.1 1122.0 L1416.2 1124.2 L1418.3 1126.3 L1420.4 1128.5 L1422.5 1130.7 L1424.6 1132.8 L1426.7 1135.0 L1428.8 1137.2 L1430.9 1139.4 L1433.0 1141.5 L1435.1 1143.7 L1437.1 1145.9 L1439.2 1148.0 L1441.3 1150.2 L1443.4 1152.4 L1445.5 1154.6 L1447.5 1156.7 L1449.6 1158.9 L1451.7 1161.1 L1453.8 1163.2 L1455.9 1165.4 L1458.0 1167.6 L1460.0 1169.8 L1462.1 1172.0 L1464.2 1174.2 L1466.3 1176.3 L1468.4 1178.5 L1470.4 1180.7 L1472.5 1182.9 L1474.6 1185.0 L1476.7 1187.2 L1478.7 1189.4 L1480.8 1191.6 L1482.9 1193.8 L1485.0 1196.0 L1487.1 1198.2 L1489.1 1200.4 L1491.2 1202.6 L1493.3 1204.8 L1495.4 1207.0 L1497.5 1209.2 L1499.6 1211.4 L1501.7 1213.6 L1503.8 1215.8 L1505.8 1218.1 L1507.9 1220.3 L1510.0 1222.5 L1512.1 1224.7 L1514.2 1226.9 L1516.3 1229.0 L1518.4 1231.2 L1520.5 1233.4 L1522.6 1235.6 L1524.7 1237.8 L1526.8 1240.0 L1528.9 1242.1 L1531.0 1244.3 L1533.1 1246.4 L1535.2 1248.6 L1537.3 1250.7 L1539.4 1252.9 L1541.5 1255.0 L1543.6 1257.2 L1545.7 1259.3 L1547.8 1261.5 L1549.9 1263.6 L1552.0 1265.7 L1554.1 1267.9 L1556.3 1270.0 L1558.4 1272.1 L1560.6 1274.2 L1562.8 1276.3 L1565.0 1278.4 L1567.2 1280.4 L1569.4 1282.5 L1571.7 1284.5 L1573.9 1286.5 L1576.2 1288.5 L1578.5 1290.5 L1580.8 1292.5 L1583.1 1294.5 L1585.4 1296.4 L1587.7 1298.4 L1590.0 1300.4 L1592.3 1302.3 L1594.7 1304.3 L1597.0 1306.2 L1599.4 1308.1 L1601.8 1310.0 L1604.2 1311.9 L1606.7 1313.8 L1609.1 1315.6 L1611.6 1317.4 L1614.0 1319.2 L1616.5 1320.9 L1619.0 1322.6 L1621.5 1324.2 L1624.1 1325.8 L1626.6 1327.4 L1629.2 1328.8 L1631.8 1330.3 L1634.5 1331.6 L1637.1 1332.9 L1639.8 1334.2 L1642.5 1335.4 L1645.2 1336.6 L1647.9 1337.7 L1650.7 1338.7 L1653.4 1339.7 L1656.2 1340.7 L1659.0 1341.6 L1661.8 1342.5 L1664.7 1343.3 L1667.6 1344.1 L1670.5 1344.9 L1673.4 1345.7 L1676.3 1346.4 L1679.3 1347.2 L1682.3 1347.9 L1685.4 1348.6 L1688.4 1349.2 L1691.4 1349.9 L1694.4 1350.5 L1697.4 1351.1 L1700.3 1351.7 L1703.1 1352.3 L1705.9 1352.8 L1708.7 1353.3 L1711.4 1353.8 L1714.2 1354.2 L1716.9 1354.7 L1719.7 1355.1 L1722.4 1355.6 L1725.2 1356.0 L1728.0 1356.4 L1730.9 1356.8 L1733.8 1357.1 L1736.7 1357.5 L1739.6 1357.9 L1742.6 1358.2 L1745.7 1358.5 L1748.7 1358.9 L1751.9 1359.2 L1755.1 1359.5 L1758.3 1359.8 L1761.6 1360.1 L1764.9 1360.4 L1768.2 1360.6 L1771.5 1360.9 L1774.7 1361.2 L1777.9 1361.4 L1780.9 1361.6 L1783.9 1361.8 L1786.8 1362.0 L1789.7 1362.2 L1792.5 1362.4 L1795.4 1362.5 L1798.2 1362.7 L1801.1 1362.8 L1804.0 1362.9 L1807.0 1363.1 L1809.9 1363.2 L1812.9 1363.3 L1816.0 1363.5 L1819.1 1363.6 L1822.1 1363.7 L1825.3 1363.8 L1828.4 1363.9 L1831.5 1364.0 L1834.7 1364.1 L1837.8 1364.2 L1841.0 1364.3 L1844.2 1364.4 L1847.4 1364.5 L1850.5 1364.6 L1853.7 1364.7 L1856.9 1364.8 L1860.0 1364.8 L1863.2 1364.9 L1866.3 1365.0 L1869.4 1365.1 L1872.5 1365.2 L1875.5 1365.2 L1878.6 1365.3 L1881.6 1365.4 L1884.6 1365.5 L1887.6 1365.6 L1890.5 1365.6 L1893.5 1365.7 L1896.5 1365.8 L1899.5 1365.9 L1902.5 1366.0 L1905.6 1366.1 L1908.7 1366.1 L1911.9 1366.2 L1915.0 1366.3 L1918.1 1366.4 L1921.3 1366.5 L1924.4 1366.5 L1927.5 1366.6 L1930.5 1366.7 L1933.6 1366.8 L1936.6 1366.8 L1939.6 1366.9 L1942.6 1367.0 L1945.6 1367.0 L1948.6 1367.1 L1951.5 1367.1 L1954.5 1367.2 L1957.4 1367.3 L1960.3 1367.3 L1963.2 1367.4 L1966.1 1367.4 L1969.0 1367.5 L1972.0 1367.5 L1974.8 1367.6 L1977.7 1367.7 L1980.6 1367.7 L1983.5 1367.8 L1986.5 1367.8 L1989.4 1367.9 L1992.3 1367.9 L1995.3 1368.0 L1998.3 1368.1 L2001.4 1368.1 L2004.5 1368.2 L2007.7 1368.3 L2010.9 1368.3 L2014.2 1368.4 L2017.6 1368.5 L2021.0 1368.5 L2024.4 1368.6 L2027.8 1368.7 L2031.3 1368.7 L2034.8 1368.8 L2038.2 1368.9 L2041.7 1368.9 L2045.1 1369.0 L2048.5 1369.1 L2051.9 1369.1 L2055.2 1369.2 L2058.4 1369.3 L2061.6 1369.3 L2064.8 1369.4 L2067.8 1369.5 L2070.8 1369.5 L2073.6 1369.6 L2076.4 1369.6 L2079.1 1369.7 L2081.6 1369.7 L2084.8 1369.8 L2087.7 1369.9 L2090.5 1369.9 L2093.1 1370.0 L2095.0 1370.0"/>
<path id="c_magenta" d="M342.4 116.5 L342.6 119.7 L342.7 123.0 L342.9 125.7 L343.0 128.5 L343.1 131.5 L343.3 134.7 L343.5 137.9 L343.6 141.2 L343.8 144.5 L343.9 147.7 L344.1 150.8 L344.2 153.7 L344.4 156.7 L344.5 159.5 L344.6 162.4 L344.8 165.3 L344.9 168.2 L345.0 171.1 L345.2 174.1 L345.3 177.2 L345.5 180.3 L345.6 183.5 L345.8 186.7 L345.9 189.9 L346.1 193.0 L346.3 196.2 L346.4 199.2 L346.6 202.2 L346.7 205.2 L346.9 208.2 L347.0 211.1 L347.2 214.0 L347.3 217.0 L347.5 219.9 L347.7 222.9 L347.8 226.0 L348.0 229.0 L348.2 232.1 L348.3 235.2 L348.5 238.3 L348.7 241.4 L348.8 244.5 L349.0 247.6 L349.2 250.7 L349.4 253.8 L349.6 256.8 L349.7 259.9 L349.9 262.9 L350.1 266.0 L350.3 269.0 L350.5 272.0 L350.7 275.0 L350.9 278.0 L351.1 281.0 L351.3 284.0 L351.5 287.0 L351.7 290.0 L351.9 293.0 L352.1 296.0 L352.3 299.0 L352.5 302.0 L352.7 305.0 L352.9 308.0 L353.1 311.0 L353.3 314.0 L353.5 317.0 L353.7 320.0 L354.0 323.0 L354.2 326.0 L354.4 329.0 L354.6 332.0 L354.8 335.0 L355.0 338.0 L355.2 341.0 L355.5 344.0 L355.7 347.0 L355.9 350.0 L356.1 353.0 L356.3 356.0 L356.5 359.0 L356.8 362.0 L357.0 365.0 L357.2 368.0 L357.4 371.0 L357.7 374.0 L357.9 377.0 L358.1 380.0 L358.4 383.0 L358.6 386.0 L358.9 389.0 L359.1 392.0 L359.4 395.0 L359.6 398.0 L359.9 401.0 L360.2 404.0 L360.5 407.0 L360.7 410.0 L361.0 413.0 L361.3 416.0 L361.6 419.0 L361.9 422.0 L362.2 425.0 L362.5 428.0 L362.8 431.0 L363.1 434.0 L363.4 437.0 L363.8 440.0 L364.1 443.0 L364.4 446.0 L364.7 449.0 L365.1 452.0 L365.4 455.0 L365.8 458.0 L366.1 461.0 L366.5 464.0 L366.9 467.0 L367.2 470.0 L367.6 473.0 L368.0 476.0 L368.4 479.0 L368.8 482.0 L369.2 485.0 L369.6 488.0 L370.0 491.0 L370.4 494.0 L370.8 497.0 L371.2 500.0 L371.6 503.0 L372.0 506.1 L372.5 509.1 L372.9 512.1 L373.3 515.1 L373.8 518.1 L374.2 521.1 L374.6 524.0 L375.1 527.0 L375.5 530.0 L376.0 533.0 L376.4 536.0 L376.9 539.0 L377.3 542.0 L377.8 545.0 L378.2 548.0 L378.7 550.9 L379.1 553.9 L379.6 556.9 L380.1 559.8 L380.5 562.8 L381.0 565.8 L381.5 568.8 L382.0 571.7 L382.4 574.7 L382.9 577.7 L383.4 580.6 L383.9 583.6 L384.4 586.6 L384.9 589.5 L385.4 592.5 L386.0 595.5 L386.5 598.5 L387.0 601.4 L387.5 604.4 L388.1 607.4 L388.6 610.3 L389.2 613.3 L389.7 616.3 L390.3 619.3 L390.8 622.2 L391.4 625.2 L392.0 628.2 L392.5 631.2 L393.1 634.1 L393.7 637.1 L394.3 640.1 L394.9 643.0 L395.5 646.0 L396.1 649.0 L396.7 651.9 L397.3 654.9 L397.9 657.8 L398.5 660.8 L399.1 663.7 L399.8 666.7 L400.4 669.6 L401.0 672.6 L401.7 675.5 L402.3 678.4 L403.0 681.4 L403.6 684.3 L404.3 687.2 L405.0 690.2 L405.6 693.1 L406.3 696.0 L407.0 698.9 L407.7 701.8 L408.4 704.7 L409.1 707.6 L409.8 710.6 L410.5 713.5 L411.3 716.4 L412.0 719.3 L412.7 722.2 L413.5 725.1 L414.2 728.0 L415.0 730.9 L415.8 733.8 L416.5 736.7 L417.3 739.6 L418.1 742.5 L418.9 745.4 L419.7 748.3 L420.5 751.2 L421.3 754.1 L422.1 757.0 L423.0 759.9 L423.8 762.8 L424.7 765.7 L425.5 768.6 L426.4 771.4 L427.2 774.3 L428.1 777.2 L429.0 780.1 L429.9 783.0 L430.8 785.9 L431.7 788.8 L432.6 791.7 L433.5 794.6 L434.5 797.4 L435.4 800.3 L436.4 803.2 L437.3 806.1 L438.3 809.0 L439.2 811.9 L440.2 814.8 L441.2 817.6 L442.2 820.5 L443.2 823.4 L444.2 826.3 L445.2 829.2 L446.2 832.0 L447.2 834.9 L448.3 837.7 L449.3 840.6 L450.4 843.4 L451.4 846.2 L452.5 849.0 L453.6 851.8 L454.7 854.6 L455.8 857.4 L456.9 860.3 L458.1 863.1 L459.2 865.9 L460.4 868.7 L461.5 871.4 L462.7 874.2 L463.9 877.0 L465.1 879.7 L466.3 882.5 L467.5 885.2 L468.7 888.0 L469.9 890.7 L471.2 893.4 L472.5 896.1 L473.8 898.8 L475.1 901.5 L476.4 904.2 L477.8 906.9 L479.1 909.6 L480.5 912.2 L481.9 914.9 L483.4 917.5 L484.8 920.2 L486.3 922.8 L487.8 925.4 L489.3 928.0 L490.8 930.6 L492.3 933.2 L493.9 935.8 L495.5 938.4 L497.0 941.0 L498.6 943.6 L500.3 946.1 L501.9 948.7 L503.5 951.3 L505.2 953.8 L506.9 956.3 L508.5 958.8 L510.2 961.4 L511.9 963.9 L513.6 966.4 L515.3 968.8 L517.0 971.3 L518.8 973.8 L520.5 976.2 L522.3 978.7 L524.0 981.1 L525.8 983.5 L527.6 986.0 L529.4 988.4 L531.2 990.8 L533.0 993.2 L534.8 995.5 L536.7 997.9 L538.5 1000.3 L540.4 1002.6 L542.3 1005.0 L544.2 1007.3 L546.1 1009.6 L548.0 1012.0 L550.0 1014.3 L551.9 1016.6 L553.9 1018.9 L555.8 1021.2 L557.8 1023.4 L559.8 1025.7 L561.8 1028.0 L563.8 1030.3 L565.8 1032.5 L567.8 1034.8 L569.8 1037.0 L571.8 1039.3 L573.9 1041.5 L576.0 1043.7 L578.0 1045.9 L580.1 1048.1 L582.2 1050.3 L584.4 1052.5 L586.5 1054.6 L588.7 1056.8 L590.8 1058.8 L593.0 1060.9 L595.2 1062.9 L597.5 1064.9 L599.7 1066.9 L602.0 1068.8 L604.3 1070.7 L606.7 1072.6 L609.1 1074.4 L611.5 1076.2 L613.9 1078.0 L616.3 1079.7 L618.8 1081.4 L621.3 1083.1 L623.8 1084.7 L626.3 1086.3 L628.8 1087.9 L631.4 1089.5 L634.0 1091.0 L636.5 1092.6 L639.1 1094.1 L641.7 1095.7 L644.4 1097.2 L647.0 1098.7 L649.6 1100.2 L652.3 1101.7 L654.9 1103.2 L657.5 1104.7 L660.1 1106.2 L662.7 1107.7 L665.4 1109.1 L668.0 1110.6 L670.6 1112.0 L673.2 1113.4 L675.9 1114.8 L678.6 1116.3 L681.2 1117.7 L683.9 1119.1 L686.6 1120.5 L689.3 1121.8 L692.0 1123.2 L694.7 1124.6 L697.4 1126.0 L700.1 1127.3 L702.8 1128.7 L705.5 1130.0 L708.2 1131.3 L710.9 1132.6 L713.6 1134.0 L716.3 1135.3 L719.0 1136.6 L721.7 1137.9 L724.5 1139.2 L727.2 1140.5 L729.9 1141.8 L732.7 1143.1 L735.4 1144.4 L738.2 1145.7 L740.9 1146.9 L743.7 1148.2 L746.4 1149.5 L749.2 1150.7 L751.9 1151.9 L754.7 1153.2 L757.4 1154.4 L760.2 1155.6 L762.9 1156.8 L765.7 1158.0 L768.4 1159.2 L771.2 1160.3 L774.0 1161.5 L776.7 1162.6 L779.5 1163.8 L782.3 1164.9 L785.1 1166.0 L787.9 1167.1 L790.7 1168.2 L793.5 1169.3 L796.3 1170.4 L799.1 1171.5 L802.0 1172.5 L804.8 1173.6 L807.6 1174.6 L810.4 1175.6 L813.2 1176.7 L816.1 1177.7 L818.9 1178.7 L821.7 1179.7 L824.6 1180.7 L827.4 1181.8 L830.3 1182.8 L833.1 1183.8 L835.9 1184.8 L838.8 1185.9 L841.6 1186.9 L844.5 1187.9 L847.3 1189.0 L850.1 1190.0 L852.9 1191.1 L855.7 1192.2 L858.5 1193.2 L861.4 1194.3 L864.2 1195.3 L867.0 1196.4 L869.8 1197.5 L872.7 1198.5 L875.5 1199.6 L878.4 1200.6 L881.2 1201.6 L884.1 1202.7 L886.9 1203.7 L889.8 1204.7 L892.7 1205.7 L895.5 1206.6 L898.4 1207.6 L901.3 1208.5 L904.2 1209.4 L907.1 1210.3 L909.9 1211.2 L912.8 1212.0 L915.8 1212.9 L918.7 1213.7 L921.6 1214.5 L924.5 1215.3 L927.4 1216.1 L930.4 1216.9 L933.3 1217.6 L936.2 1218.4 L939.2 1219.1 L942.1 1219.8 L945.0 1220.6 L948.0 1221.3 L950.9 1222.0 L953.9 1222.7 L956.8 1223.4 L959.8 1224.1 L962.7 1224.8 L965.7 1225.4 L968.6 1226.1 L971.6 1226.8 L974.5 1227.5 L977.5 1228.1 L980.4 1228.8 L983.4 1229.4 L986.4 1230.1 L989.3 1230.7 L992.3 1231.3 L995.2 1232.0 L998.2 1232.6 L1001.2 1233.2 L1004.1 1233.8 L1007.1 1234.4 L1010.1 1235.0 L1013.0 1235.6 L1016.0 1236.2 L1019.0 1236.8 L1021.9 1237.3 L1024.9 1237.9 L1027.8 1238.5 L1030.8 1239.1 L1033.8 1239.6 L1036.7 1240.2 L1039.7 1240.7 L1042.7 1241.3 L1045.7 1241.9 L1048.7 1242.4 L1051.6 1242.9 L1054.6 1243.5 L1057.6 1244.0 L1060.6 1244.5 L1063.6 1245.1 L1066.6 1245.6 L1069.5 1246.1 L1072.5 1246.6 L1075.5 1247.1 L1078.5 1247.7 L1081.5 1248.2 L1084.4 1248.7 L1087.4 1249.2 L1090.4 1249.7 L1093.4 1250.2 L1096.3 1250.8 L1099.3 1251.3 L1102.3 1251.8 L1105.3 1252.3 L1108.2 1252.9 L1111.2 1253.4 L1114.2 1253.9 L1117.2 1254.5 L1120.1 1255.0 L1123.1 1255.5 L1126.1 1256.1 L1129.0 1256.6 L1132.0 1257.1 L1135.0 1257.7 L1138.0 1258.2 L1140.9 1258.7 L1143.9 1259.3 L1146.9 1259.8 L1149.9 1260.3 L1152.8 1260.9 L1155.8 1261.4 L1158.8 1261.9 L1161.8 1262.4 L1164.8 1263.0 L1167.8 1263.5 L1170.8 1264.0 L1173.7 1264.5 L1176.7 1265.0 L1179.7 1265.5 L1182.7 1266.0 L1185.7 1266.5 L1188.7 1267.0 L1191.7 1267.5 L1194.7 1268.0 L1197.7 1268.5 L1200.7 1269.0 L1203.7 1269.5 L1206.7 1270.0 L1209.7 1270.5 L1212.7 1271.0 L1215.7 1271.5 L1218.7 1272.0 L1221.7 1272.5 L1224.7 1273.0 L1227.7 1273.5 L1230.6 1274.0 L1233.6 1274.5 L1236.6 1275.1 L1239.6 1275.6 L1242.6 1276.1 L1245.6 1276.7 L1248.6 1277.2 L1251.5 1277.7 L1254.5 1278.3 L1257.5 1278.8 L1260.5 1279.4 L1263.4 1279.9 L1266.4 1280.5 L1269.4 1281.0 L1272.3 1281.6 L1275.3 1282.1 L1278.3 1282.7 L1281.2 1283.3 L1284.2 1283.8 L1287.2 1284.4 L1290.2 1285.0 L1293.1 1285.5 L1296.1 1286.1 L1299.1 1286.7 L1302.0 1287.3 L1305.0 1287.9 L1308.0 1288.5 L1310.9 1289.1 L1313.9 1289.7 L1316.9 1290.3 L1319.8 1290.9 L1322.8 1291.5 L1325.7 1292.2 L1328.7 1292.8 L1331.7 1293.4 L1334.6 1294.0 L1337.6 1294.6 L1340.6 1295.3 L1343.6 1295.9 L1346.5 1296.5 L1349.5 1297.2 L1352.5 1297.8 L1355.4 1298.4 L1358.4 1299.0 L1361.4 1299.7 L1364.3 1300.3 L1367.3 1300.9 L1370.3 1301.5 L1373.2 1302.1 L1376.2 1302.8 L1379.2 1303.4 L1382.1 1304.0 L1385.1 1304.6 L1388.1 1305.2 L1391.0 1305.8 L1394.0 1306.5 L1397.0 1307.1 L1399.9 1307.7 L1402.9 1308.3 L1405.9 1308.9 L1408.8 1309.6 L1411.8 1310.2 L1414.7 1310.8 L1417.7 1311.4 L1420.6 1312.0 L1423.6 1312.6 L1426.5 1313.3 L1429.5 1313.9 L1432.4 1314.5 L1435.4 1315.1 L1438.3 1315.8 L1441.3 1316.4 L1444.2 1317.0 L1447.2 1317.6 L1450.1 1318.3 L1453.1 1318.9 L1456.0 1319.5 L1459.0 1320.2 L1461.9 1320.8 L1464.8 1321.4 L1467.8 1322.1 L1470.7 1322.7 L1473.7 1323.3 L1476.6 1323.9 L1479.5 1324.6 L1482.5 1325.2 L1485.4 1325.8 L1488.4 1326.4 L1491.3 1327.1 L1494.3 1327.7 L1497.2 1328.3 L1500.2 1328.9 L1503.1 1329.6 L1506.1 1330.2 L1509.0 1330.8 L1512.0 1331.4 L1515.0 1332.1 L1517.9 1332.7 L1520.9 1333.3 L1523.9 1333.9 L1526.8 1334.6 L1529.8 1335.2 L1532.8 1335.8 L1535.8 1336.4 L1538.7 1337.0 L1541.7 1337.6 L1544.7 1338.2 L1547.7 1338.8 L1550.6 1339.4 L1553.6 1339.9 L1556.6 1340.5 L1559.6 1341.0 L1562.6 1341.5 L1565.5 1342.1 L1568.5 1342.6 L1571.5 1343.1 L1574.4 1343.6 L1577.4 1344.1 L1580.4 1344.5 L1583.3 1345.0 L1586.3 1345.5 L1589.3 1345.9 L1592.2 1346.4 L1595.2 1346.8 L1598.2 1347.2 L1601.2 1347.7 L1604.1 1348.1 L1607.1 1348.5 L1610.1 1348.9 L1613.1 1349.3 L1616.1 1349.7 L1619.1 1350.1 L1622.0 1350.4 L1625.0 1350.8 L1628.0 1351.1 L1631.0 1351.5 L1634.0 1351.8 L1637.0 1352.1 L1640.0 1352.5 L1642.9 1352.8 L1645.9 1353.1 L1648.9 1353.3 L1651.9 1353.6 L1654.9 1353.9 L1657.9 1354.2 L1660.9 1354.4 L1663.9 1354.7 L1666.9 1354.9 L1669.9 1355.1 L1672.9 1355.4 L1675.9 1355.6 L1678.9 1355.8 L1681.9 1356.1 L1684.9 1356.3 L1687.9 1356.5 L1691.0 1356.7 L1694.0 1356.9 L1697.0 1357.2 L1700.0 1357.4 L1703.0 1357.6 L1706.0 1357.8 L1709.0 1358.0 L1712.0 1358.2 L1715.0 1358.3 L1718.0 1358.5 L1721.0 1358.7 L1724.0 1358.9 L1727.0 1359.0 L1730.1 1359.2 L1733.1 1359.4 L1736.1 1359.5 L1739.1 1359.7 L1742.1 1359.9 L1745.1 1360.0 L1748.1 1360.2 L1751.1 1360.3 L1754.1 1360.5 L1757.1 1360.6 L1760.1 1360.8 L1763.1 1360.9 L1766.1 1361.1 L1769.0 1361.2 L1772.0 1361.4 L1775.0 1361.5 L1778.0 1361.7 L1781.0 1361.8 L1784.0 1362.0 L1787.0 1362.1 L1789.9 1362.2 L1792.9 1362.4 L1795.9 1362.5 L1798.9 1362.6 L1801.8 1362.8 L1804.8 1362.9 L1807.8 1363.0 L1810.8 1363.2 L1813.8 1363.3 L1816.8 1363.4 L1819.8 1363.5 L1822.8 1363.6 L1825.8 1363.7 L1828.8 1363.8 L1831.7 1364.0 L1834.6 1364.1 L1837.5 1364.2 L1840.4 1364.2 L1843.2 1364.3 L1846.0 1364.4 L1848.8 1364.5 L1851.6 1364.6 L1854.5 1364.7 L1857.3 1364.8 L1860.1 1364.9 L1863.0 1364.9 L1865.9 1365.0 L1868.9 1365.1 L1871.8 1365.2 L1874.9 1365.3 L1878.0 1365.3 L1881.1 1365.4 L1884.3 1365.5 L1887.5 1365.6 L1890.7 1365.7 L1893.8 1365.7 L1897.0 1365.8 L1900.0 1365.9 L1903.0 1366.0 L1905.9 1366.0 L1908.8 1366.1 L1911.7 1366.2 L1914.5 1366.2 L1917.4 1366.3 L1920.2 1366.4 L1923.2 1366.4 L1926.1 1366.5 L1929.1 1366.6 L1932.1 1366.6 L1935.1 1366.7 L1938.2 1366.8 L1941.2 1366.8 L1944.3 1366.9 L1947.4 1367.0 L1950.6 1367.1 L1953.7 1367.1 L1956.8 1367.2 L1960.0 1367.3 L1963.1 1367.3 L1966.3 1367.4 L1969.4 1367.5 L1972.5 1367.5 L1975.6 1367.6 L1978.7 1367.7 L1981.8 1367.7 L1984.9 1367.8 L1988.0 1367.8 L1991.0 1367.9 L1994.1 1368.0 L1997.2 1368.0 L2000.3 1368.1 L2003.4 1368.2 L2006.6 1368.2 L2009.8 1368.3 L2013.1 1368.4 L2016.5 1368.4 L2019.8 1368.5 L2023.3 1368.6 L2026.7 1368.6 L2030.1 1368.7 L2033.6 1368.8 L2037.1 1368.9 L2040.5 1368.9 L2044.0 1369.0 L2047.4 1369.1 L2050.7 1369.1 L2054.1 1369.2 L2057.4 1369.3 L2060.6 1369.3 L2063.7 1369.4 L2066.8 1369.4 L2069.8 1369.5 L2072.7 1369.6 L2075.5 1369.6 L2078.2 1369.7 L2080.8 1369.7 L2084.0 1369.8 L2087.0 1369.8 L2089.8 1369.9 L2092.4 1369.9 L2095.0 1370.0"/>
<path id="c_cyan" d="M339.8 112.0 L339.9 113.5 L339.9 115.1 L340.0 116.7 L340.1 118.4 L340.2 120.1 L340.3 121.9 L340.3 123.8 L340.4 125.7 L340.5 126.7 L340.5 127.7 L340.6 128.8 L340.6 129.8 L340.7 130.9 L340.7 132.0 L340.8 133.0 L340.8 134.1 L340.9 135.2 L340.9 136.3 L341.0 137.4 L341.0 138.4 L341.0 139.5 L341.1 140.6 L341.1 141.7 L341.2 142.7 L341.2 143.8 L341.3 144.8 L341.3 145.8 L341.4 146.8 L341.4 147.8 L341.5 149.8 L341.6 151.7 L341.7 153.7 L341.7 155.6 L341.8 157.5 L341.9 159.4 L342.0 161.3 L342.1 163.2 L342.1 165.2 L342.2 167.1 L342.3 169.1 L342.4 170.2 L342.4 171.2 L342.4 172.2 L342.5 173.2 L342.5 174.3 L342.6 175.3 L342.6 176.3 L342.7 177.4 L342.7 178.4 L342.8 179.5 L342.8 180.6 L342.9 181.6 L342.9 182.7 L343.0 183.7 L343.0 184.8 L343.1 185.9 L343.1 186.9 L343.2 188.0 L343.2 189.0 L343.3 190.1 L343.3 191.1 L343.4 192.2 L343.4 193.2 L343.5 194.2 L343.5 195.2 L343.6 196.3 L343.6 197.3 L343.7 198.3 L343.8 200.2 L343.9 202.2 L344.0 204.2 L344.1 206.1 L344.2 208.1 L344.3 210.1 L344.4 212.0 L344.5 214.0 L344.6 216.0 L344.7 217.0 L344.7 218.0 L344.8 219.0 L344.9 220.0 L344.9 221.0 L345.0 222.1 L345.0 223.1 L345.1 224.1 L345.1 225.1 L345.2 226.1 L345.3 227.2 L345.3 228.2 L345.4 229.2 L345.4 230.3 L345.5 231.3 L345.5 232.3 L345.6 233.4 L345.7 234.4 L345.7 235.4 L345.8 236.5 L345.8 237.5 L345.9 238.5 L346.0 239.6 L346.0 240.6 L346.1 241.6 L346.1 242.7 L346.2 243.7 L346.3 244.7 L346.3 245.8 L346.4 246.8 L346.5 247.8 L346.5 248.8 L346.6 249.9 L346.6 250.9 L346.7 251.9 L346.8 252.9 L346.8 253.9 L346.9 255.0 L346.9 256.0 L347.0 257.0 L347.1 258.0 L347.1 259.0 L347.2 260.0 L347.2 261.0 L347.3 262.0 L347.4 263.1 L347.4 264.1 L347.5 265.1 L347.5 266.1 L347.6 267.1 L347.7 268.1 L347.7 269.1 L347.8 270.1 L347.8 271.1 L347.9 272.1 L348.0 273.1 L348.0 274.1 L348.1 275.1 L348.1 276.1 L348.2 277.2 L348.2 278.2 L348.3 279.2 L348.4 280.2 L348.4 281.2 L348.5 282.2 L348.5 283.2 L348.6 284.2 L348.7 286.2 L348.8 288.1 L349.0 290.1 L349.1 292.1 L349.2 294.1 L349.3 296.1 L349.5 298.1 L349.6 300.1 L349.7 302.1 L349.8 304.1 L350.0 306.0 L350.1 308.0 L350.3 310.0 L350.4 312.0 L350.6 314.0 L350.7 316.0 L350.9 318.0 L351.0 320.0 L351.2 322.0 L351.4 324.0 L351.5 326.0 L351.7 327.9 L351.9 329.9 L352.1 331.9 L352.3 333.9 L352.4 335.9 L352.6 337.9 L352.8 339.8 L353.0 341.8 L353.2 343.8 L353.4 345.8 L353.6 347.7 L353.8 349.7 L354.0 351.7 L354.3 353.7 L354.5 355.7 L354.7 357.7 L354.8 358.7 L354.9 359.6 L355.0 360.6 L355.1 361.6 L355.3 362.6 L355.4 363.6 L355.5 364.6 L355.6 365.6 L355.7 366.6 L355.8 367.6 L355.9 368.6 L356.1 369.6 L356.2 370.6 L356.3 371.7 L356.4 372.7 L356.5 373.7 L356.7 374.7 L356.8 375.7 L356.9 376.7 L357.0 377.7 L357.2 378.7 L357.3 379.7 L357.4 380.7 L357.5 381.8 L357.7 382.8 L357.8 383.8 L357.9 384.8 L358.1 385.8 L358.2 386.8 L358.3 387.8 L358.4 388.8 L358.6 389.8 L358.7 390.8 L358.8 391.8 L359.0 392.8 L359.1 393.8 L359.2 394.8 L359.4 395.8 L359.5 396.8 L359.6 397.8 L359.8 398.8 L359.9 399.8 L360.0 400.8 L360.2 401.8 L360.3 402.8 L360.4 403.8 L360.6 404.8 L360.7 405.8 L360.9 406.8 L361.0 407.8 L361.1 408.8 L361.3 409.8 L361.4 410.8 L361.6 411.8 L361.7 412.8 L361.8 413.8 L362.0 414.8 L362.1 415.9 L362.3 416.9 L362.4 417.9 L362.6 418.9 L362.7 419.9 L362.9 420.9 L363.0 421.9 L363.2 422.9 L363.3 423.9 L363.5 425.0 L363.6 426.0 L363.8 427.0 L363.9 428.0 L364.1 429.0 L364.2 430.0 L364.4 431.0 L364.5 432.1 L364.7 433.1 L364.8 434.1 L365.0 435.1 L365.1 436.1 L365.3 437.1 L365.4 438.1 L365.6 439.1 L365.7 440.1 L365.9 441.1 L366.1 442.1 L366.2 443.2 L366.4 444.2 L366.5 445.2 L366.7 446.2 L366.8 447.2 L367.0 448.2 L367.1 449.2 L367.3 450.2 L367.5 451.2 L367.6 452.1 L367.8 453.1 L367.9 454.1 L368.1 455.1 L368.2 456.1 L368.4 457.1 L368.6 458.1 L368.7 459.1 L368.9 460.1 L369.0 461.1 L369.2 462.1 L369.3 463.1 L369.5 464.1 L369.7 465.1 L369.8 466.1 L370.0 467.1 L370.2 468.1 L370.3 469.1 L370.5 470.1 L370.6 471.1 L370.8 472.1 L371.0 473.1 L371.1 474.1 L371.3 475.1 L371.5 476.1 L371.6 477.1 L371.8 478.1 L371.9 479.1 L372.1 480.1 L372.3 481.1 L372.4 482.1 L372.6 483.1 L372.8 484.1 L372.9 485.1 L373.1 486.1 L373.3 487.1 L373.4 488.0 L373.6 489.0 L373.8 490.0 L373.9 491.0 L374.3 493.0 L374.6 494.9 L375.0 496.9 L375.3 498.9 L375.6 500.8 L376.0 502.8 L376.3 504.8 L376.7 506.7 L377.0 508.7 L377.4 510.6 L377.7 512.6 L378.1 514.6 L378.5 516.5 L378.8 518.5 L379.0 519.5 L379.2 520.5 L379.4 521.5 L379.6 522.4 L379.8 523.4 L379.9 524.4 L380.1 525.4 L380.3 526.4 L380.5 527.4 L380.7 528.3 L380.9 529.3 L381.1 530.3 L381.2 531.3 L381.4 532.3 L381.6 533.3 L381.8 534.2 L382.0 535.2 L382.2 536.2 L382.4 537.2 L382.6 538.2 L382.7 539.2 L382.9 540.1 L383.1 541.1 L383.3 542.1 L383.5 543.1 L383.7 544.1 L383.9 545.1 L384.1 546.1 L384.3 547.0 L384.5 548.0 L384.7 549.0 L384.9 550.0 L385.1 551.0 L385.2 552.0 L385.4 552.9 L385.6 553.9 L385.8 554.9 L386.0 555.9 L386.2 556.9 L386.4 557.9 L386.6 558.8 L386.8 559.8 L387.0 560.8 L387.2 561.8 L387.4 562.8 L387.7 563.8 L387.9 564.7 L388.1 565.7 L388.3 566.7 L388.5 567.7 L388.7 568.7 L388.9 569.6 L389.1 570.6 L389.3 571.6 L389.6 572.6 L389.8 573.6 L390.0 574.5 L390.2 575.5 L390.4 576.5 L390.7 577.5 L390.9 578.4 L391.1 579.4 L391.3 580.4 L391.6 581.4 L391.8 582.3 L392.0 583.3 L392.3 584.3 L392.5 585.2 L392.7 586.2 L393.0 587.2 L393.2 588.2 L393.5 589.1 L393.7 590.1 L393.9 591.1 L394.2 592.1 L394.4 593.0 L394.7 594.0 L394.9 595.0 L395.2 596.0 L395.5 596.9 L395.7 597.9 L396.0 598.9 L396.2 599.9 L396.5 600.8 L396.8 601.8 L397.0 602.8 L397.3 603.7 L397.6 604.7 L397.9 605.7 L398.1 606.7 L398.4 607.6 L398.7 608.6 L399.0 609.6 L399.2 610.5 L399.5 611.5 L399.8 612.5 L400.1 613.5 L400.4 614.4 L400.7 615.4 L400.9 616.4 L401.2 617.3 L401.5 618.3 L401.8 619.3 L402.1 620.2 L402.4 621.2 L402.7 622.1 L403.0 623.1 L403.3 624.1 L403.6 625.0 L403.9 626.0 L404.2 627.0 L404.5 627.9 L404.8 628.9 L405.1 629.9 L405.4 630.8 L405.7 631.8 L406.0 632.7 L406.3 633.7 L406.6 634.7 L407.0 635.6 L407.3 636.6 L407.6 637.6 L407.9 638.5 L408.2 639.5 L408.5 640.5 L408.8 641.4 L409.2 642.4 L409.5 643.4 L409.8 644.3 L410.1 645.3 L410.5 646.2 L410.8 647.2 L411.1 648.2 L411.4 649.1 L411.8 650.1 L412.1 651.1 L412.4 652.0 L412.7 653.0 L413.1 653.9 L413.4 654.9 L413.7 655.8 L414.1 656.8 L414.4 657.7 L414.7 658.7 L415.1 659.7 L415.4 660.6 L415.8 661.6 L416.1 662.5 L416.4 663.5 L416.8 664.4 L417.1 665.3 L417.5 666.3 L417.8 667.2 L418.2 668.2 L418.5 669.1 L418.9 670.1 L419.2 671.0 L419.6 672.0 L419.9 672.9 L420.3 673.9 L420.6 674.8 L421.0 675.8 L421.3 676.7 L421.7 677.7 L422.0 678.6 L422.4 679.6 L422.8 680.5 L423.1 681.5 L423.5 682.4 L423.9 683.4 L424.2 684.3 L424.6 685.3 L424.9 686.2 L425.3 687.2 L425.7 688.1 L426.0 689.1 L426.4 690.0 L426.8 691.0 L427.2 691.9 L427.5 692.9 L427.9 693.8 L428.3 694.7 L428.6 695.7 L429.0 696.6 L429.4 697.6 L429.7 698.5 L430.1 699.5 L430.5 700.4 L430.8 701.3 L431.2 702.3 L431.6 703.2 L432.0 704.2 L432.3 705.1 L432.7 706.0 L433.1 707.0 L433.4 707.9 L433.8 708.8 L434.2 709.8 L434.5 710.7 L434.9 711.6 L435.3 712.6 L435.6 713.5 L436.0 714.4 L436.4 715.4 L436.7 716.3 L437.1 717.3 L437.5 718.2 L437.8 719.1 L438.2 720.1 L438.6 721.0 L438.9 722.0 L439.3 722.9 L439.7 723.8 L440.1 724.8 L440.4 725.7 L440.8 726.7 L441.2 727.6 L441.5 728.6 L441.9 729.5 L442.3 730.4 L442.6 731.4 L443.0 732.3 L443.4 733.3 L443.8 734.2 L444.1 735.2 L444.5 736.1 L444.9 737.0 L445.2 738.0 L445.6 738.9 L446.0 739.8 L446.3 740.8 L446.7 741.7 L447.1 742.7 L447.4 743.6 L447.8 744.5 L448.2 745.4 L448.5 746.4 L448.9 747.3 L449.3 748.2 L449.7 749.2 L450.0 750.1 L450.4 751.0 L450.8 752.0 L451.1 752.9 L451.5 753.8 L451.9 754.7 L452.3 755.7 L452.6 756.6 L453.0 757.5 L453.4 758.5 L453.8 759.4 L454.2 760.3 L454.5 761.3 L454.9 762.2 L455.3 763.1 L455.7 764.0 L456.1 765.0 L456.5 765.9 L456.9 766.8 L457.2 767.8 L457.6 768.7 L458.0 769.6 L458.4 770.5 L458.8 771.5 L459.2 772.4 L459.6 773.3 L460.0 774.3 L460.4 775.2 L460.8 776.1 L461.2 777.0 L461.6 778.0 L462.0 778.9 L462.4 779.8 L462.8 780.7 L463.2 781.6 L463.6 782.6 L464.0 783.5 L464.4 784.4 L464.9 785.3 L465.3 786.2 L465.7 787.1 L466.1 788.0 L466.5 789.0 L466.9 789.9 L467.3 790.8 L467.7 791.7 L468.2 792.6 L468.6 793.5 L469.0 794.4 L469.4 795.3 L469.8 796.2 L470.3 797.1 L470.7 798.1 L471.1 799.0 L471.5 799.9 L472.0 800.8 L472.4 801.7 L472.8 802.6 L473.3 803.5 L473.7 804.4 L474.1 805.3 L474.6 806.3 L475.0 807.2 L475.4 808.1 L475.9 809.0 L476.3 809.9 L476.7 810.8 L477.2 811.7 L477.6 812.6 L478.0 813.5 L478.5 814.5 L478.9 815.4 L479.3 816.3 L479.8 817.2 L480.2 818.1 L480.6 819.0 L481.1 819.9 L481.5 820.8 L481.9 821.8 L482.4 822.7 L482.8 823.6 L483.3 824.5 L483.7 825.4 L484.1 826.3 L484.6 827.2 L485.0 828.1 L485.4 829.1 L485.9 830.0 L486.3 830.9 L486.7 831.8 L487.1 832.7 L487.6 833.6 L488.0 834.5 L488.4 835.4 L488.9 836.4 L489.3 837.3 L489.7 838.2 L490.1 839.1 L490.6 840.0 L491.0 840.9 L491.4 841.8 L491.8 842.7 L492.3 843.6 L492.7 844.6 L493.1 845.5 L493.5 846.4 L494.0 847.3 L494.4 848.2 L494.8 849.1 L495.2 850.0 L495.6 850.9 L496.1 851.9 L496.5 852.8 L496.9 853.7 L497.3 854.6 L497.7 855.5 L498.2 856.4 L498.6 857.3 L499.0 858.3 L499.4 859.2 L499.8 860.1 L500.3 861.0 L500.7 861.9 L501.1 862.8 L501.5 863.7 L501.9 864.6 L502.4 865.6 L502.8 866.5 L503.2 867.4 L503.6 868.3 L504.0 869.2 L504.4 870.1 L504.9 871.0 L505.3 871.9 L505.7 872.9 L506.1 873.8 L506.5 874.7 L507.0 875.6 L507.4 876.5 L507.8 877.4 L508.2 878.3 L508.6 879.2 L509.1 880.2 L509.5 881.1 L509.9 882.0 L510.3 882.9 L510.7 883.8 L511.2 884.7 L511.6 885.6 L512.0 886.5 L512.4 887.4 L512.9 888.3 L513.3 889.2 L513.7 890.1 L514.1 891.1 L514.6 892.0 L515.0 892.9 L515.4 893.8 L515.8 894.7 L516.3 895.6 L516.7 896.5 L517.1 897.4 L517.5 898.3 L518.0 899.2 L518.4 900.1 L518.8 901.0 L519.3 901.9 L519.7 902.8 L520.1 903.8 L520.6 904.7 L521.0 905.6 L521.5 906.5 L521.9 907.4 L522.3 908.3 L522.8 909.2 L523.2 910.1 L523.6 911.0 L524.1 911.9 L524.5 912.8 L525.0 913.7 L525.4 914.6 L525.9 915.6 L526.3 916.5 L526.7 917.4 L527.2 918.3 L527.6 919.2 L528.1 920.1 L528.5 921.0 L529.0 921.9 L529.4 922.8 L529.8 923.7 L530.3 924.6 L530.7 925.5 L531.2 926.4 L531.6 927.3 L532.1 928.2 L532.5 929.1 L533.0 930.0 L533.4 930.9 L533.9 931.8 L534.3 932.7 L534.8 933.6 L535.2 934.5 L535.7 935.4 L536.1 936.3 L536.6 937.2 L537.0 938.2 L537.4 939.1 L537.9 940.0 L538.3 940.9 L538.8 941.8 L539.2 942.6 L539.7 943.5 L540.1 944.4 L540.6 945.3 L541.0 946.2 L541.5 947.1 L541.9 948.0 L542.4 948.9 L542.8 949.8 L543.3 950.7 L543.7 951.6 L544.2 952.5 L544.6 953.4 L545.1 954.3 L545.5 955.2 L546.0 956.1 L546.4 957.0 L546.8 957.9 L547.3 958.9 L547.7 959.8 L548.2 960.7 L548.6 961.6 L549.1 962.5 L549.5 963.4 L550.0 964.3 L550.4 965.2 L550.8 966.1 L551.3 967.0 L551.7 967.9 L552.2 968.8 L552.6 969.8 L553.0 970.7 L553.5 971.6 L553.9 972.5 L554.3 973.4 L554.8 974.3 L555.2 975.3 L555.6 976.2 L556.1 977.1 L556.5 978.0 L556.9 978.9 L557.4 979.8 L557.8 980.8 L558.2 981.7 L558.7 982.6 L559.1 983.5 L559.5 984.4 L560.0 985.3 L560.4 986.2 L560.9 987.2 L561.3 988.1 L561.7 989.0 L562.2 989.9 L562.6 990.8 L563.1 991.7 L563.5 992.6 L563.9 993.5 L564.4 994.4 L564.8 995.3 L565.3 996.2 L565.7 997.1 L566.2 998.0 L566.6 998.9 L567.1 999.8 L567.6 1000.7 L568.0 1001.6 L568.5 1002.5 L569.0 1003.4 L569.4 1004.3 L569.9 1005.2 L570.4 1006.1 L570.9 1007.0 L571.3 1007.8 L571.8 1008.7 L572.3 1009.6 L572.8 1010.5 L573.3 1011.4 L573.8 1012.2 L574.3 1013.1 L574.8 1014.0 L575.3 1014.8 L575.8 1015.7 L576.3 1016.6 L576.9 1017.4 L577.4 1018.3 L577.9 1019.1 L578.4 1020.0 L579.0 1020.8 L579.5 1021.7 L580.0 1022.6 L580.6 1023.4 L581.1 1024.3 L581.6 1025.1 L582.2 1025.9 L582.7 1026.8 L583.3 1027.6 L583.8 1028.5 L584.4 1029.3 L584.9 1030.2 L585.5 1031.0 L586.0 1031.8 L586.6 1032.7 L587.1 1033.5 L587.7 1034.4 L588.3 1035.2 L588.8 1036.0 L589.4 1036.8 L590.0 1037.7 L590.5 1038.5 L591.1 1039.3 L591.7 1040.1 L592.3 1041.0 L592.9 1041.8 L593.4 1042.6 L594.0 1043.4 L594.6 1044.2 L595.2 1045.0 L595.8 1045.9 L596.4 1046.7 L597.0 1047.5 L597.6 1048.3 L598.3 1049.1 L598.9 1049.9 L599.5 1050.7 L600.1 1051.4 L600.8 1052.2 L601.4 1053.0 L602.0 1053.8 L602.7 1054.6 L603.3 1055.4 L604.0 1056.1 L604.6 1056.9 L605.3 1057.7 L605.9 1058.4 L606.6 1059.2 L607.3 1059.9 L608.0 1060.7 L608.6 1061.4 L609.3 1062.2 L610.0 1062.9 L610.7 1063.6 L611.4 1064.4 L612.1 1065.1 L612.8 1065.8 L613.5 1066.5 L614.2 1067.2 L614.9 1067.9 L615.7 1068.6 L617.1 1070.0 L618.6 1071.3 L620.1 1072.7 L621.6 1074.0 L623.1 1075.3 L624.6 1076.5 L626.1 1077.8 L627.7 1079.0 L629.3 1080.2 L630.8 1081.4 L632.4 1082.6 L633.3 1083.2 L634.1 1083.8 L634.9 1084.4 L635.7 1085.0 L636.5 1085.5 L637.4 1086.1 L638.2 1086.7 L639.0 1087.3 L639.9 1087.8 L640.7 1088.4 L641.5 1089.0 L642.4 1089.5 L643.2 1090.1 L644.1 1090.6 L645.0 1091.2 L645.8 1091.7 L646.7 1092.3 L647.5 1092.8 L648.4 1093.4 L649.3 1093.9 L650.1 1094.5 L651.0 1095.0 L651.9 1095.5 L652.7 1096.1 L653.6 1096.6 L654.5 1097.1 L655.4 1097.6 L656.2 1098.1 L657.1 1098.7 L658.0 1099.2 L658.9 1099.7 L659.8 1100.2 L660.6 1100.7 L661.5 1101.2 L662.4 1101.7 L663.3 1102.2 L664.1 1102.7 L665.0 1103.2 L665.9 1103.7 L666.8 1104.2 L667.7 1104.7 L668.6 1105.2 L669.4 1105.6 L670.3 1106.1 L671.2 1106.6 L672.1 1107.1 L673.0 1107.6 L673.9 1108.0 L674.7 1108.5 L675.6 1109.0 L676.5 1109.5 L677.4 1109.9 L678.3 1110.4 L679.2 1110.8 L680.1 1111.3 L681.0 1111.8 L681.9 1112.2 L682.8 1112.7 L683.7 1113.1 L684.6 1113.6 L685.5 1114.0 L686.4 1114.5 L687.3 1114.9 L688.3 1115.3 L689.2 1115.8 L690.1 1116.2 L691.0 1116.6 L691.9 1117.0 L692.8 1117.5 L693.8 1117.9 L694.7 1118.3 L695.6 1118.7 L696.5 1119.1 L697.4 1119.5 L698.4 1119.9 L699.3 1120.3 L700.2 1120.7 L701.1 1121.1 L702.1 1121.5 L703.0 1121.9 L703.9 1122.3 L704.9 1122.7 L705.8 1123.1 L706.7 1123.5 L707.6 1123.9 L708.6 1124.2 L709.5 1124.6 L710.4 1125.0 L711.4 1125.4 L712.3 1125.8 L713.2 1126.1 L714.2 1126.5 L715.1 1126.9 L716.0 1127.2 L717.0 1127.6 L717.9 1128.0 L718.8 1128.3 L719.8 1128.7 L720.7 1129.0 L721.6 1129.4 L722.6 1129.7 L723.5 1130.1 L724.5 1130.5 L725.4 1130.8 L726.3 1131.2 L727.3 1131.5 L728.2 1131.9 L729.1 1132.2 L730.1 1132.6 L731.0 1132.9 L732.0 1133.3 L732.9 1133.6 L733.8 1134.0 L734.8 1134.3 L735.7 1134.6 L736.7 1135.0 L737.6 1135.3 L738.6 1135.7 L739.5 1136.0 L740.4 1136.3 L741.4 1136.7 L742.3 1137.0 L743.3 1137.4 L744.2 1137.7 L745.2 1138.0 L746.1 1138.4 L747.1 1138.7 L748.0 1139.0 L749.0 1139.3 L749.9 1139.7 L750.9 1140.0 L751.8 1140.3 L752.8 1140.6 L753.7 1141.0 L754.7 1141.3 L755.6 1141.6 L756.6 1141.9 L757.6 1142.2 L758.5 1142.5 L759.5 1142.8 L760.4 1143.2 L761.4 1143.5 L762.3 1143.8 L763.3 1144.1 L764.2 1144.4 L765.2 1144.7 L766.2 1145.0 L767.1 1145.3 L768.1 1145.6 L769.0 1145.9 L770.0 1146.2 L771.0 1146.5 L771.9 1146.8 L772.9 1147.1 L773.8 1147.4 L774.8 1147.7 L775.8 1147.9 L776.7 1148.2 L777.7 1148.5 L778.6 1148.8 L779.6 1149.1 L780.6 1149.4 L781.5 1149.7 L782.5 1150.0 L783.4 1150.2 L784.4 1150.5 L785.4 1150.8 L786.3 1151.1 L787.3 1151.4 L788.3 1151.7 L789.2 1151.9 L790.2 1152.2 L791.2 1152.5 L792.1 1152.8 L793.1 1153.1 L794.1 1153.4 L795.0 1153.6 L796.0 1153.9 L797.0 1154.2 L797.9 1154.5 L798.9 1154.8 L799.9 1155.0 L800.8 1155.3 L801.8 1155.6 L802.8 1155.9 L803.8 1156.1 L804.7 1156.4 L805.7 1156.7 L806.7 1157.0 L807.6 1157.3 L808.6 1157.5 L809.6 1157.8 L810.6 1158.1 L811.5 1158.4 L812.5 1158.6 L813.5 1158.9 L814.5 1159.2 L815.4 1159.5 L816.4 1159.7 L817.4 1160.0 L818.4 1160.3 L819.3 1160.6 L820.3 1160.8 L821.3 1161.1 L822.3 1161.4 L823.3 1161.6 L824.2 1161.9 L825.2 1162.2 L826.2 1162.4 L827.2 1162.7 L828.2 1163.0 L829.1 1163.2 L830.1 1163.5 L831.1 1163.8 L832.1 1164.0 L833.1 1164.3 L834.0 1164.5 L835.0 1164.8 L836.0 1165.1 L837.0 1165.3 L838.0 1165.6 L839.0 1165.8 L839.9 1166.1 L840.9 1166.3 L841.9 1166.6 L842.9 1166.9 L843.9 1167.1 L844.9 1167.4 L845.8 1167.6 L846.8 1167.8 L847.8 1168.1 L848.8 1168.3 L849.8 1168.6 L850.8 1168.8 L851.8 1169.1 L852.8 1169.3 L853.7 1169.5 L854.7 1169.8 L855.7 1170.0 L856.7 1170.3 L857.7 1170.5 L858.7 1170.7 L859.7 1171.0 L860.6 1171.2 L861.6 1171.4 L862.6 1171.6 L863.6 1171.9 L864.6 1172.1 L865.6 1172.3 L866.6 1172.5 L867.5 1172.8 L868.5 1173.0 L869.5 1173.2 L870.5 1173.4 L871.5 1173.6 L872.5 1173.9 L873.5 1174.1 L874.4 1174.3 L875.4 1174.5 L876.4 1174.7 L877.4 1174.9 L878.4 1175.1 L879.4 1175.3 L880.3 1175.5 L881.3 1175.7 L882.3 1175.9 L883.3 1176.1 L884.3 1176.3 L885.3 1176.5 L886.2 1176.7 L887.2 1176.9 L888.2 1177.1 L889.2 1177.3 L890.2 1177.5 L891.2 1177.7 L892.2 1177.9 L893.1 1178.1 L894.1 1178.3 L895.1 1178.5 L896.1 1178.7 L897.1 1178.9 L898.1 1179.1 L899.1 1179.2 L900.1 1179.4 L901.0 1179.6 L902.0 1179.8 L903.0 1180.0 L904.0 1180.2 L905.0 1180.3 L906.0 1180.5 L907.0 1180.7 L908.0 1180.9 L909.0 1181.0 L909.9 1181.2 L910.9 1181.4 L911.9 1181.5 L912.9 1181.7 L913.9 1181.9 L914.9 1182.0 L915.9 1182.2 L916.9 1182.4 L917.9 1182.5 L918.9 1182.7 L919.8 1182.8 L920.8 1183.0 L921.8 1183.1 L922.8 1183.3 L923.8 1183.4 L924.8 1183.6 L925.8 1183.7 L926.8 1183.9 L927.8 1184.0 L928.8 1184.2 L929.8 1184.3 L930.8 1184.5 L931.8 1184.6 L932.7 1184.7 L933.7 1184.9 L934.7 1185.0 L935.7 1185.1 L936.7 1185.3 L937.7 1185.4 L938.7 1185.5 L939.7 1185.6 L940.7 1185.8 L941.7 1185.9 L942.7 1186.0 L943.7 1186.1 L944.7 1186.2 L945.7 1186.3 L946.7 1186.5 L947.7 1186.6 L948.7 1186.7 L949.7 1186.8 L950.7 1186.9 L951.7 1187.0 L952.7 1187.1 L953.7 1187.2 L954.7 1187.3 L955.7 1187.4 L956.7 1187.5 L957.7 1187.6 L958.8 1187.7 L959.8 1187.8 L960.8 1187.9 L961.8 1188.0 L962.8 1188.0 L963.8 1188.1 L964.8 1188.2 L965.8 1188.3 L966.8 1188.4 L967.8 1188.5 L968.8 1188.6 L969.8 1188.6 L970.8 1188.7 L971.8 1188.8 L972.8 1188.9 L973.8 1189.0 L974.8 1189.0 L975.8 1189.1 L976.8 1189.2 L977.8 1189.3 L978.8 1189.4 L979.8 1189.4 L980.8 1189.5 L981.8 1189.6 L982.9 1189.6 L983.9 1189.7 L984.9 1189.8 L985.9 1189.9 L986.9 1189.9 L987.9 1190.0 L988.9 1190.1 L989.9 1190.2 L990.9 1190.2 L991.9 1190.3 L992.9 1190.4 L993.9 1190.4 L994.9 1190.5 L996.0 1190.6 L997.0 1190.6 L998.0 1190.7 L999.0 1190.8 L1000.0 1190.8 L1001.0 1190.9 L1002.0 1191.0 L1003.0 1191.0 L1004.0 1191.1 L1005.0 1191.2 L1006.0 1191.2 L1007.0 1191.3 L1008.1 1191.4 L1009.1 1191.4 L1010.1 1191.5 L1011.1 1191.5 L1012.1 1191.6 L1013.1 1191.7 L1014.1 1191.7 L1015.1 1191.8 L1016.1 1191.8 L1017.2 1191.9 L1018.2 1192.0 L1019.2 1192.0 L1020.2 1192.1 L1021.2 1192.1 L1022.2 1192.2 L1023.2 1192.2 L1024.3 1192.3 L1025.3 1192.3 L1026.3 1192.4 L1027.3 1192.4 L1028.3 1192.5 L1029.3 1192.5 L1030.3 1192.6 L1031.4 1192.6 L1032.4 1192.7 L1033.4 1192.7 L1034.4 1192.8 L1035.4 1192.8 L1036.4 1192.9 L1037.4 1192.9 L1038.5 1193.0 L1039.5 1193.0 L1040.5 1193.1 L1041.5 1193.1 L1042.5 1193.1 L1043.5 1193.2 L1044.5 1193.2 L1045.5 1193.3 L1046.5 1193.3 L1047.5 1193.4 L1048.5 1193.4 L1049.5 1193.5 L1050.6 1193.5 L1051.6 1193.5 L1052.6 1193.6 L1053.6 1193.6 L1054.6 1193.7 L1055.6 1193.7 L1056.6 1193.8 L1057.6 1193.8 L1058.6 1193.9 L1059.6 1193.9 L1060.6 1193.9 L1061.6 1194.0 L1062.6 1194.0 L1063.6 1194.1 L1064.6 1194.1 L1065.6 1194.1 L1066.6 1194.2 L1067.6 1194.2 L1068.6 1194.3 L1069.6 1194.3 L1070.6 1194.3 L1071.6 1194.4 L1072.6 1194.4 L1073.6 1194.5 L1074.6 1194.5 L1075.6 1194.5 L1076.6 1194.6 L1077.6 1194.6 L1078.6 1194.6 L1079.6 1194.7 L1080.6 1194.7 L1082.6 1194.8 L1084.6 1194.8 L1086.6 1194.9 L1088.6 1195.0 L1090.6 1195.0 L1092.6 1195.1 L1094.5 1195.2 L1096.5 1195.2 L1098.5 1195.3 L1100.5 1195.4 L1102.5 1195.4 L1104.5 1195.5 L1106.4 1195.6 L1108.4 1195.6 L1110.4 1195.7 L1112.4 1195.8 L1114.4 1195.9 L1115.4 1195.9 L1116.4 1196.0 L1117.4 1196.0 L1118.4 1196.1 L1119.4 1196.1 L1120.4 1196.2 L1121.4 1196.2 L1122.4 1196.3 L1123.4 1196.3 L1124.5 1196.4 L1125.5 1196.4 L1126.5 1196.5 L1127.5 1196.6 L1128.5 1196.6 L1129.5 1196.7 L1130.5 1196.7 L1131.5 1196.8 L1132.5 1196.9 L1133.5 1196.9 L1134.5 1197.0 L1135.5 1197.1 L1136.5 1197.1 L1137.5 1197.2 L1138.5 1197.3 L1139.5 1197.3 L1140.5 1197.4 L1141.5 1197.5 L1142.5 1197.5 L1143.5 1197.6 L1144.5 1197.7 L1145.5 1197.8 L1146.5 1197.8 L1147.5 1197.9 L1148.5 1198.0 L1149.5 1198.1 L1150.5 1198.1 L1151.5 1198.2 L1152.5 1198.3 L1153.5 1198.4 L1154.5 1198.5 L1155.5 1198.5 L1156.5 1198.6 L1157.5 1198.7 L1158.5 1198.8 L1159.6 1198.9 L1160.6 1198.9 L1161.6 1199.0 L1162.6 1199.1 L1163.6 1199.2 L1164.6 1199.3 L1165.6 1199.4 L1166.6 1199.5 L1167.7 1199.6 L1168.7 1199.7 L1169.7 1199.8 L1170.7 1199.9 L1171.7 1199.9 L1172.7 1200.0 L1173.7 1200.1 L1174.7 1200.2 L1175.8 1200.3 L1176.8 1200.4 L1177.8 1200.5 L1178.8 1200.6 L1179.8 1200.8 L1180.8 1200.9 L1181.8 1201.0 L1182.8 1201.1 L1183.8 1201.2 L1184.8 1201.3 L1185.8 1201.4 L1186.8 1201.5 L1187.8 1201.6 L1188.8 1201.7 L1189.8 1201.9 L1190.9 1202.0 L1191.9 1202.1 L1192.9 1202.2 L1193.9 1202.3 L1194.9 1202.5 L1195.9 1202.6 L1196.9 1202.7 L1197.9 1202.8 L1198.9 1203.0 L1199.9 1203.1 L1200.9 1203.2 L1201.9 1203.4 L1202.9 1203.5 L1203.9 1203.6 L1204.9 1203.8 L1205.9 1203.9 L1207.0 1204.0 L1208.0 1204.2 L1209.0 1204.3 L1210.0 1204.5 L1211.0 1204.6 L1212.0 1204.7 L1213.0 1204.9 L1214.1 1205.0 L1215.1 1205.2 L1216.1 1205.3 L1217.1 1205.5 L1218.1 1205.6 L1219.1 1205.8 L1220.2 1205.9 L1221.2 1206.1 L1222.2 1206.3 L1223.2 1206.4 L1224.2 1206.6 L1225.2 1206.7 L1226.2 1206.9 L1227.2 1207.1 L1228.3 1207.2 L1229.3 1207.4 L1230.3 1207.5 L1231.3 1207.7 L1232.3 1207.9 L1233.3 1208.1 L1234.3 1208.2 L1235.3 1208.4 L1236.3 1208.6 L1237.3 1208.7 L1238.3 1208.9 L1239.3 1209.1 L1240.2 1209.3 L1241.2 1209.4 L1242.2 1209.6 L1243.2 1209.8 L1245.2 1210.2 L1247.1 1210.5 L1249.1 1210.9 L1251.0 1211.3 L1253.0 1211.7 L1254.9 1212.1 L1256.8 1212.5 L1258.8 1212.9 L1260.7 1213.3 L1262.7 1213.7 L1263.7 1213.9 L1264.6 1214.2 L1265.6 1214.4 L1266.6 1214.6 L1267.6 1214.8 L1268.6 1215.1 L1269.6 1215.3 L1270.6 1215.5 L1271.6 1215.8 L1272.6 1216.0 L1273.5 1216.3 L1274.5 1216.5 L1275.5 1216.8 L1276.5 1217.0 L1277.5 1217.3 L1278.5 1217.5 L1279.5 1217.8 L1280.5 1218.0 L1281.5 1218.3 L1282.4 1218.5 L1283.4 1218.8"/>
<path id="c_cyan_b" d="M1295.0 1222.1 L1296.9 1222.6 L1298.8 1223.2 L1300.7 1223.8 L1302.6 1224.4 L1303.6 1224.7 L1304.6 1225.0 L1305.5 1225.3 L1306.5 1225.6 L1307.4 1225.9 L1308.4 1226.2 L1309.3 1226.5 L1310.3 1226.8 L1311.2 1227.1 L1312.2 1227.5 L1313.2 1227.8 L1314.1 1228.1 L1315.1 1228.4 L1316.0 1228.7 L1317.0 1229.0 L1317.9 1229.4 L1318.9 1229.7 L1319.8 1230.0 L1320.8 1230.3 L1322.7 1231.0 L1324.5 1231.7"/>
<path id="c_cyan_c" d="M1366.7 1247.9 L1367.6 1248.3 L1368.6 1248.7 L1369.5 1249.1 L1370.5 1249.5 L1371.4 1249.8 L1372.4 1250.2 L1373.3 1250.6 L1374.2 1251.0 L1375.2 1251.4 L1376.1 1251.7 L1377.1 1252.1 L1378.0 1252.5 L1379.0 1252.9 L1379.9 1253.2 L1380.8 1253.6 L1381.8 1254.0 L1382.7 1254.4 L1383.6 1254.7 L1384.5 1255.1 L1385.5 1255.5 L1387.3 1256.2 L1389.2 1257.0 L1390.1 1257.3 L1391.0 1257.7 L1392.0 1258.1 L1392.9 1258.5 L1393.8 1258.8 L1394.8 1259.2 L1395.7 1259.6 L1396.6 1260.0 L1397.6 1260.3 L1398.5 1260.7 L1399.4 1261.1 L1400.4 1261.5 L1401.3 1261.9 L1402.3 1262.2 L1403.2 1262.6 L1404.1 1263.0 L1405.1 1263.4 L1406.0 1263.8 L1407.0 1264.1 L1407.9 1264.5 L1408.8 1264.9 L1409.8 1265.3 L1410.7 1265.7 L1411.7 1266.1 L1412.6 1266.4 L1413.6 1266.8 L1414.5 1267.2 L1415.5 1267.6 L1416.4 1268.0 L1417.4 1268.3 L1418.3 1268.7 L1419.3 1269.1 L1420.2 1269.5 L1421.2 1269.9 L1422.1 1270.2 L1423.0 1270.6 L1424.0 1271.0 L1424.9 1271.4 L1425.9 1271.7 L1426.8 1272.1 L1427.8 1272.5 L1428.7 1272.9 L1429.7 1273.2 L1430.6 1273.6 L1431.5 1274.0 L1432.5 1274.4 L1433.4 1274.7 L1434.4 1275.1 L1435.3 1275.5 L1436.3 1275.8 L1437.2 1276.2 L1438.1 1276.5 L1439.1 1276.9 L1440.0 1277.3 L1441.0 1277.6 L1441.9 1278.0 L1442.8 1278.3 L1443.8 1278.7 L1444.7 1279.0 L1445.7 1279.4 L1446.6 1279.8 L1447.5 1280.1 L1448.5 1280.5 L1449.4 1280.8 L1450.4 1281.2 L1451.3 1281.5 L1452.2 1281.9 L1453.2 1282.2 L1454.1 1282.5 L1455.1 1282.9 L1456.0 1283.2 L1457.9 1283.9 L1459.7 1284.6 L1461.6 1285.3 L1463.5 1286.0 L1465.4 1286.6 L1467.3 1287.3 L1469.1 1288.0 L1471.0 1288.7 L1472.9 1289.3 L1474.7 1290.0 L1476.6 1290.7 L1478.5 1291.4 L1480.4 1292.0 L1482.3 1292.7 L1484.1 1293.4 L1486.0 1294.1 L1487.9 1294.8 L1488.8 1295.1 L1489.8 1295.5 L1490.7 1295.8 L1491.6 1296.2 L1492.6 1296.5 L1493.5 1296.9 L1494.5 1297.2 L1495.4 1297.6 L1496.3 1297.9 L1497.3 1298.3 L1498.2 1298.6 L1499.1 1299.0 L1500.1 1299.3 L1501.0 1299.7 L1502.0 1300.0 L1502.9 1300.4 L1503.8 1300.8 L1504.8 1301.1 L1505.7 1301.5 L1506.6 1301.9 L1507.6 1302.2 L1508.5 1302.6 L1509.4 1302.9 L1510.4 1303.3 L1511.3 1303.7 L1512.2 1304.1 L1513.2 1304.4 L1514.1 1304.8 L1515.0 1305.2 L1516.0 1305.6 L1516.9 1305.9 L1517.8 1306.3 L1518.8 1306.7 L1519.7 1307.1 L1520.6 1307.4 L1521.6 1307.8 L1522.5 1308.2 L1523.4 1308.6 L1524.3 1309.0 L1525.3 1309.3 L1526.2 1309.7 L1527.1 1310.1 L1528.1 1310.5 L1529.0 1310.9 L1529.9 1311.2 L1530.9 1311.6 L1531.8 1312.0 L1532.7 1312.4 L1533.7 1312.8 L1534.6 1313.2 L1535.6 1313.5 L1536.5 1313.9 L1537.4 1314.3 L1538.4 1314.7 L1539.3 1315.0 L1540.2 1315.4 L1541.2 1315.8 L1542.1 1316.2 L1543.0 1316.5 L1544.0 1316.9 L1544.9 1317.3 L1545.9 1317.7 L1546.8 1318.0 L1547.7 1318.4 L1548.7 1318.8 L1549.6 1319.1 L1550.6 1319.5 L1551.5 1319.9 L1552.4 1320.2 L1553.4 1320.6 L1554.3 1320.9 L1555.3 1321.3 L1556.2 1321.6 L1557.2 1322.0 L1558.1 1322.3 L1559.0 1322.7 L1560.0 1323.0 L1560.9 1323.4 L1561.9 1323.7 L1562.8 1324.1 L1563.8 1324.4 L1564.7 1324.7 L1565.7 1325.1 L1566.6 1325.4 L1567.6 1325.7 L1568.5 1326.1 L1569.5 1326.4 L1570.4 1326.7 L1571.3 1327.1 L1572.3 1327.4 L1573.2 1327.7 L1574.2 1328.1 L1575.1 1328.4 L1576.1 1328.7 L1577.0 1329.0 L1578.0 1329.4 L1578.9 1329.7 L1579.9 1330.0 L1580.8 1330.3 L1581.8 1330.6 L1582.8 1331.0 L1583.7 1331.3 L1584.7 1331.6 L1585.6 1331.9 L1586.6 1332.2 L1587.5 1332.5 L1588.5 1332.8 L1589.4 1333.1 L1590.4 1333.5 L1591.3 1333.8 L1592.3 1334.1 L1593.3 1334.4 L1594.2 1334.7 L1595.2 1335.0 L1596.1 1335.3 L1597.1 1335.6 L1598.0 1335.9 L1599.0 1336.2 L1600.0 1336.5 L1600.9 1336.7 L1601.9 1337.0 L1602.8 1337.3 L1603.8 1337.6 L1604.8 1337.9 L1605.7 1338.2 L1606.7 1338.5 L1607.7 1338.7 L1608.6 1339.0 L1609.6 1339.3 L1610.5 1339.6 L1611.5 1339.8 L1612.5 1340.1 L1613.4 1340.4 L1614.4 1340.6 L1615.4 1340.9 L1616.4 1341.1 L1617.3 1341.4 L1618.3 1341.7 L1619.3 1341.9 L1620.2 1342.2 L1621.2 1342.4 L1622.2 1342.7 L1623.1 1342.9 L1624.1 1343.1 L1626.1 1343.6 L1628.0 1344.1 L1629.9 1344.5 L1631.9 1345.0 L1633.8 1345.4 L1635.8 1345.8 L1637.7 1346.2 L1639.6 1346.6 L1641.5 1347.0 L1643.5 1347.4 L1645.4 1347.7 L1647.3 1348.1 L1649.2 1348.4 L1651.2 1348.8 L1653.1 1349.1 L1655.0 1349.4 L1657.0 1349.8 L1658.9 1350.1 L1660.9 1350.4 L1662.8 1350.7 L1664.8 1351.0 L1666.8 1351.3 L1667.8 1351.4 L1668.8 1351.6 L1669.8 1351.7 L1670.8 1351.8 L1671.8 1352.0 L1672.8 1352.1 L1673.8 1352.2 L1674.8 1352.4 L1675.8 1352.5 L1676.9 1352.7 L1677.9 1352.8 L1678.9 1352.9 L1680.0 1353.1 L1681.0 1353.2 L1682.0 1353.3 L1683.1 1353.4 L1684.1 1353.6 L1685.1 1353.7 L1686.2 1353.8 L1687.2 1353.9 L1688.2 1354.1 L1689.3 1354.2 L1690.3 1354.3 L1691.3 1354.4 L1692.3 1354.5 L1693.3 1354.7 L1694.3 1354.8 L1695.3 1354.9 L1697.3 1355.1 L1699.2 1355.3 L1701.1 1355.5 L1703.0 1355.7 L1704.9 1355.9 L1706.8 1356.1 L1708.6 1356.3 L1710.4 1356.5 L1712.3 1356.7 L1714.1 1356.9 L1715.9 1357.0 L1717.8 1357.2 L1719.6 1357.4 L1721.5 1357.5 L1723.4 1357.7 L1725.3 1357.9 L1727.1 1358.0 L1729.0 1358.2 L1731.0 1358.3 L1732.9 1358.5 L1734.8 1358.6 L1736.8 1358.8 L1738.8 1358.9 L1740.8 1359.1 L1741.8 1359.1 L1742.8 1359.2 L1743.8 1359.3 L1744.8 1359.4 L1745.8 1359.4 L1746.8 1359.5 L1747.9 1359.6 L1748.9 1359.6 L1749.9 1359.7 L1751.0 1359.8 L1752.0 1359.8 L1753.1 1359.9 L1754.2 1360.0 L1755.2 1360.0 L1756.3 1360.1 L1757.4 1360.2 L1758.4 1360.2 L1759.5 1360.3 L1760.6 1360.4 L1761.7 1360.4 L1762.8 1360.5 L1763.9 1360.6 L1765.0 1360.6 L1766.1 1360.7 L1767.2 1360.8 L1768.3 1360.8 L1769.4 1360.9 L1770.5 1361.0 L1771.6 1361.0 L1772.6 1361.1 L1773.7 1361.1 L1774.8 1361.2 L1775.8 1361.3 L1776.9 1361.3 L1777.9 1361.4 L1779.0 1361.4 L1780.0 1361.5 L1781.0 1361.5 L1782.0 1361.6 L1784.0 1361.7 L1785.9 1361.8 L1787.9 1361.9 L1789.8 1362.0 L1791.7 1362.1 L1793.5 1362.1 L1795.4 1362.2 L1797.4 1362.3 L1799.3 1362.4 L1801.2 1362.5 L1803.2 1362.6 L1805.1 1362.6 L1807.1 1362.7 L1809.1 1362.8 L1811.1 1362.9 L1812.1 1362.9 L1813.1 1363.0 L1814.1 1363.0 L1815.1 1363.0 L1816.1 1363.1 L1817.2 1363.1 L1818.2 1363.2 L1819.2 1363.2 L1820.2 1363.2 L1821.3 1363.3 L1822.3 1363.3 L1823.3 1363.4 L1824.4 1363.4 L1825.4 1363.4 L1826.4 1363.5 L1827.5 1363.5 L1828.5 1363.5 L1829.6 1363.6 L1830.6 1363.6 L1831.7 1363.7 L1832.7 1363.7 L1833.8 1363.7 L1834.8 1363.8 L1835.9 1363.8 L1836.9 1363.8 L1838.0 1363.9 L1839.0 1363.9 L1840.1 1363.9 L1841.1 1364.0 L1842.2 1364.0 L1843.2 1364.0 L1844.3 1364.1 L1845.4 1364.1 L1846.4 1364.2 L1847.5 1364.2 L1848.5 1364.2 L1849.6 1364.3 L1850.6 1364.3 L1851.7 1364.3 L1852.7 1364.4 L1853.8 1364.4 L1854.8 1364.4 L1855.9 1364.5 L1856.9 1364.5 L1858.0 1364.5 L1859.0 1364.6 L1860.1 1364.6 L1861.1 1364.6 L1862.2 1364.7 L1863.2 1364.7 L1864.3 1364.7 L1865.3 1364.8 L1866.3 1364.8 L1867.4 1364.8 L1868.4 1364.8 L1869.4 1364.9 L1870.5 1364.9 L1871.5 1364.9 L1872.5 1365.0 L1873.5 1365.0 L1874.6 1365.0 L1875.6 1365.1 L1876.6 1365.1 L1877.6 1365.1 L1878.6 1365.2 L1879.6 1365.2 L1880.6 1365.2 L1881.6 1365.2 L1883.6 1365.3 L1885.6 1365.4 L1887.6 1365.4 L1889.5 1365.5 L1891.5 1365.5 L1893.5 1365.6 L1895.5 1365.7 L1897.5 1365.7 L1898.5 1365.8 L1899.5 1365.8 L1900.5 1365.8 L1901.5 1365.8 L1902.5 1365.9 L1903.6 1365.9 L1904.6 1365.9 L1905.6 1366.0 L1906.6 1366.0 L1907.7 1366.0 L1908.7 1366.0 L1909.8 1366.1 L1910.8 1366.1 L1911.9 1366.1 L1912.9 1366.2 L1914.0 1366.2 L1915.0 1366.2 L1916.0 1366.2 L1917.1 1366.3 L1918.1 1366.3 L1919.2 1366.3 L1920.2 1366.4 L1921.3 1366.4 L1922.3 1366.4 L1923.3 1366.4 L1924.4 1366.5 L1925.4 1366.5 L1926.4 1366.5 L1927.5 1366.5 L1928.5 1366.6 L1929.5 1366.6 L1930.5 1366.6 L1931.5 1366.6 L1932.6 1366.7 L1933.6 1366.7 L1934.6 1366.7 L1935.6 1366.7 L1936.6 1366.8 L1937.6 1366.8 L1938.6 1366.8 L1939.6 1366.8 L1940.6 1366.9 L1942.6 1366.9 L1944.6 1366.9 L1946.6 1367.0 L1948.6 1367.0 L1950.5 1367.1 L1952.5 1367.1 L1954.5 1367.2 L1956.4 1367.2 L1958.4 1367.2 L1960.3 1367.3 L1962.3 1367.3 L1964.2 1367.4 L1966.1 1367.4 L1968.1 1367.4 L1970.0 1367.5 L1972.0 1367.5 L1973.9 1367.6 L1975.8 1367.6 L1977.7 1367.6 L1979.7 1367.7 L1981.6 1367.7 L1983.5 1367.8 L1985.5 1367.8 L1987.4 1367.8 L1989.4 1367.9 L1991.3 1367.9 L1993.3 1368.0 L1995.3 1368.0 L1996.3 1368.0 L1997.3 1368.0 L1998.3 1368.1 L1999.3 1368.1 L2000.4 1368.1 L2001.4 1368.1 L2002.4 1368.2 L2003.5 1368.2 L2004.5 1368.2 L2005.6 1368.2 L2006.6 1368.2 L2007.7 1368.3 L2008.8 1368.3 L2009.9 1368.3 L2010.9 1368.3 L2012.0 1368.4 L2013.1 1368.4 L2014.2 1368.4 L2015.4 1368.4 L2016.5 1368.4 L2017.6 1368.5 L2018.7 1368.5 L2019.8 1368.5 L2021.0 1368.5 L2022.1 1368.6 L2023.3 1368.6 L2024.4 1368.6 L2025.5 1368.6 L2026.7 1368.7 L2027.8 1368.7 L2029.0 1368.7 L2030.1 1368.7 L2031.3 1368.7 L2032.5 1368.8 L2033.6 1368.8 L2034.8 1368.8 L2035.9 1368.8 L2037.1 1368.9 L2038.2 1368.9 L2039.4 1368.9 L2040.5 1368.9 L2041.7 1369.0 L2042.8 1369.0 L2044.0 1369.0 L2045.1 1369.0 L2046.2 1369.0 L2047.4 1369.1 L2048.5 1369.1 L2049.6 1369.1 L2050.7 1369.1 L2051.9 1369.2 L2053.0 1369.2 L2054.1 1369.2 L2055.2 1369.2 L2056.3 1369.2 L2057.4 1369.3 L2058.4 1369.3 L2059.5 1369.3 L2060.6 1369.3 L2061.6 1369.3 L2062.7 1369.4 L2063.7 1369.4 L2064.8 1369.4 L2065.8 1369.4 L2066.8 1369.4 L2067.8 1369.5 L2069.8 1369.5 L2071.7 1369.5 L2073.6 1369.6 L2075.5 1369.6 L2077.3 1369.7 L2079.1 1369.7 L2080.8 1369.7 L2082.4 1369.8 L2084.0 1369.8 L2085.5 1369.8 L2087.0 1369.8 L2088.4 1369.9 L2089.8 1369.9 L2091.1 1369.9 L2092.4 1369.9 L2093.7 1370.0 L2095.0 1370.0"/>
</defs>
<rect width="2177" height="1660" fill="#fff"/>
<g><clipPath id="cv1"><rect x="336.6" y="1100.3" width="85.2" height="299.3"/></clipPath><rect x="336.6" y="1100.3" width="85.2" height="299.3" fill="url(#cg1)"/><g clip-path="url(#cv1)"><g filter="url(#b2)"><rect x="330.6" y="1094.3" width="84.0" height="35.0" fill="url(#cap1)"/><rect x="415.6" y="1094.3" width="13.2" height="37.0" fill="#6f6a65"/><rect x="346.8" y="1128.5" width="58.6" height="17.0" fill="#98a3b0"/><path d="M349.4 1145.0 V1164.0 Q349.4 1175.0 360.4 1175.0 H391.8 Q402.8 1175.0 402.8 1164.0 V1145.0 Z" fill="#8a837e"/><rect x="351.4" y="1365.0" width="56.3" height="18.5" fill="#a6a48f"/><path d="M361.4 1366.0 L406.7 1350.0 L406.7 1366.0 Z" fill="#97947f"/></g><g filter="url(#b1)" fill="none"><path d="M348.9 1145.0 V1162.5 Q348.9 1174.5 360.9 1174.5 H391.3 Q403.3 1174.5 403.3 1162.5 V1145.0" stroke="#726e6a" stroke-width="2.6" opacity="0.8"/><path d="M346.4 1161.0 V1167.0 Q346.4 1182.0 361.4 1182.0 H390.8 Q405.8 1182.0 405.8 1167.0 V1161.0" stroke="#97a3ad" stroke-width="5" opacity="0.35"/><path d="M347.4 1172.0 Q349.4 1182.0 360.4 1182.0 H391.8 Q402.8 1182.0 404.8 1172.0" stroke="#97a3ad" stroke-width="6.5" opacity="0.9"/><path d="M344.6 1189.0 V1385.6" stroke="#949ca3" stroke-width="3" opacity="0.75"/><path d="M413.3 1189.0 V1385.6" stroke="#929aa1" stroke-width="3" opacity="0.85"/><path d="M351.8 1366.0 V1382.5" stroke="#6f6d67" stroke-width="2.6"/><path d="M405.6 1366.0 V1382.5" stroke="#6f6d67" stroke-width="2.6"/></g></g><rect x="336.9" y="1100.6" width="84.6" height="298.7" fill="none" stroke="#dcd8d4" stroke-width="1.6"/></g><g><clipPath id="cv2"><rect x="470.6" y="1100.3" width="85.2" height="299.3"/></clipPath><rect x="470.6" y="1100.3" width="85.2" height="299.3" fill="url(#cg2)"/><g clip-path="url(#cv2)"><g filter="url(#b2)"><rect x="464.6" y="1094.3" width="88.0" height="28.5" fill="url(#cap2)"/><rect x="483.5" y="1128.0" width="59.7" height="12.8" fill="#b6bec2"/><path d="M486.2 1141.5 V1165.0 Q486.2 1176.0 497.2 1176.0 H529.6 Q540.6 1176.0 540.6 1165.0 V1141.5 Z" fill="#a89d98"/><rect x="547.6" y="1125.8" width="6.8" height="299.3" fill="#adb1a9"/><rect x="485.8" y="1367.5" width="57.2" height="16.0" fill="#b5b396"/><path d="M495.8 1368.5 L542.0 1352.5 L542.0 1368.5 Z" fill="#a7a186"/></g><g filter="url(#b1)" fill="none"><path d="M485.7 1141.5 V1163.5 Q485.7 1175.5 497.7 1175.5 H529.1 Q541.1 1175.5 541.1 1163.5 V1141.5" stroke="#8e8882" stroke-width="2.6" opacity="0.8"/><path d="M483.2 1157.5 V1168.0 Q483.2 1183.0 498.2 1183.0 H528.6 Q543.6 1183.0 543.6 1168.0 V1157.5" stroke="#b4bc96" stroke-width="5" opacity="0.35"/><path d="M484.2 1173.0 Q486.2 1183.0 497.2 1183.0 H529.6 Q540.6 1183.0 542.6 1173.0" stroke="#b4bc96" stroke-width="6.5" opacity="0.9"/><path d="M478.2 1190.0 V1385.6" stroke="#a9a9a0" stroke-width="3" opacity="0.6"/><path d="M541.4 1368.5 V1382.5" stroke="#8b8162" stroke-width="2.6"/></g></g><rect x="470.9" y="1100.6" width="84.6" height="298.7" fill="none" stroke="#dcd8d4" stroke-width="1.6"/></g>
<g clip-path="url(#plot)" fill="none" stroke-linejoin="round">
<use href="#c_black" stroke="#000" stroke-width="7.3" stroke-opacity="0.5"/><use href="#c_black" stroke="#000" stroke-width="3.6"/>
<use href="#c_red" stroke="#f00" stroke-width="8.2" stroke-opacity="0.5"/><use href="#c_red" stroke="#f00" stroke-width="4.3"/>
<use href="#c_green" stroke="#0f0" stroke-width="8.3" stroke-opacity="0.5"/><use href="#c_green" stroke="#0f0" stroke-width="4.6"/>
<use href="#c_blue" stroke="#00f" stroke-width="8.0" stroke-opacity="0.5" stroke-dasharray="27.2 39.7" stroke-dashoffset="0" stroke-linecap="round"/><use href="#c_blue" stroke="#00f" stroke-width="4.4" stroke-dasharray="27.2 39.7" stroke-dashoffset="0" stroke-linecap="round"/>
<use href="#c_cyan" stroke="#0ff" stroke-width="8.4" stroke-opacity="0.5" stroke-dasharray="27 39.9" stroke-dashoffset="0" stroke-linecap="round"/><use href="#c_cyan" stroke="#0ff" stroke-width="5.7" stroke-dasharray="27 39.9" stroke-dashoffset="0" stroke-linecap="round"/>
<use href="#c_cyan_b" stroke="#0ff" stroke-width="8.4" stroke-opacity="0.5" stroke-linecap="round"/><use href="#c_cyan_b" stroke="#0ff" stroke-width="5.7" stroke-linecap="round"/>
<use href="#c_cyan_c" stroke="#0ff" stroke-width="8.4" stroke-opacity="0.5" stroke-dasharray="27 39.9" stroke-dashoffset="0" stroke-linecap="round"/><use href="#c_cyan_c" stroke="#0ff" stroke-width="5.7" stroke-dasharray="27 39.9" stroke-dashoffset="0" stroke-linecap="round"/>
<use href="#c_magenta" stroke="#f0f" stroke-width="8.3" stroke-opacity="0.5" stroke-dasharray="27.2 39.7" stroke-dashoffset="0" stroke-linecap="round"/><use href="#c_magenta" stroke="#f0f" stroke-width="4.3" stroke-dasharray="27.2 39.7" stroke-dashoffset="0" stroke-linecap="round"/>
</g>
<g fill="none" stroke-linecap="round">
<path d="M1350.4 265.9 H1492.2" stroke="#000" stroke-width="7.8" stroke-opacity="0.5"/><path d="M1350.4 265.9 H1492.2" stroke="#000" stroke-width="4.1"/>
<path d="M1350.4 343.5 H1492.2" stroke="#f00" stroke-width="8.2" stroke-opacity="0.5"/><path d="M1350.4 343.5 H1492.2" stroke="#f00" stroke-width="4.3"/>
<path d="M1350.4 421.1 H1492.2" stroke="#0f0" stroke-width="8.3" stroke-opacity="0.5"/><path d="M1350.4 421.1 H1492.2" stroke="#0f0" stroke-width="4.6"/>
<path d="M1350.4 498.7 H1492.2" stroke="#00f" stroke-width="8.0" stroke-opacity="0.5" stroke-dasharray="28 40"/><path d="M1350.4 498.7 H1492.2" stroke="#00f" stroke-width="4.4" stroke-dasharray="28 40"/>
<path d="M1350.4 576.3 H1492.2" stroke="#0ff" stroke-width="8.4" stroke-opacity="0.5" stroke-dasharray="28 40"/><path d="M1350.4 576.3 H1492.2" stroke="#0ff" stroke-width="5.7" stroke-dasharray="28 40"/>
<path d="M1350.4 653.9 H1492.2" stroke="#f0f" stroke-width="8.3" stroke-opacity="0.5" stroke-dasharray="28 40"/><path d="M1350.4 653.9 H1492.2" stroke="#f0f" stroke-width="4.3" stroke-dasharray="28 40"/>
</g>
<g fill="none"><path d="M728.6 153.0 V227.3" stroke="#000" stroke-width="3.6" stroke-opacity="0.5"/><path d="M728.6 153.0 V227.3" stroke="#000" stroke-width="1.6"/></g><path d="M720.6 225.3 L736.6 225.3 L730.2 252.8 L728.6 258.8 L727.0 252.8 Z" fill="#000" stroke="#000" stroke-opacity="0.45" stroke-width="1.4" stroke-linejoin="round"/>
<g fill="none"><path d="M1198.4 657.8 V581.8" stroke="#000" stroke-width="3.6" stroke-opacity="0.5"/><path d="M1198.4 657.8 V581.8" stroke="#000" stroke-width="1.6"/></g><path d="M1189.1 583.8 L1207.7 583.8 L1200.0 556.3 L1198.4 550.3 L1196.8 556.3 Z" fill="#000" stroke="#000" stroke-opacity="0.45" stroke-width="1.4" stroke-linejoin="round"/>
<g fill="none"><path d="M1224.4 553.9 V629.9" stroke="#000" stroke-width="3.6" stroke-opacity="0.5" stroke-dasharray="9.7 6.3"/><path d="M1224.4 553.9 V629.9" stroke="#000" stroke-width="1.6" stroke-dasharray="9.7 6.3"/></g><path d="M1216.2 627.9 L1232.6 627.9 L1226.0 655.4 L1224.4 661.4 L1222.8 655.4 Z" fill="#000" stroke="#000" stroke-opacity="0.45" stroke-width="1.4" stroke-linejoin="round"/>
<g filter="url(#soft)" fill="#000">
<g font-size="64">
<text x="258.3" y="1429.5" text-anchor="end">0.0</text>
<text x="258.3" y="1263.2" text-anchor="end">0.2</text>
<text x="258.3" y="1097.0" text-anchor="end">0.4</text>
<text x="258.3" y="930.7" text-anchor="end">0.6</text>
<text x="258.3" y="764.5" text-anchor="end">0.8</text>
<text x="258.3" y="598.2" text-anchor="end">1.0</text>
<text x="258.3" y="431.9" text-anchor="end">1.2</text>
<text x="258.3" y="265.7" text-anchor="end">1.4</text>
<text x="258.3" y="99.4" text-anchor="end">1.6</text>
<text x="426.7" y="1503.9" text-anchor="middle">300</text>
<text x="842.3" y="1503.9" text-anchor="middle">350</text>
<text x="1257.9" y="1503.9" text-anchor="middle">400</text>
<text x="1673.4" y="1503.9" text-anchor="middle">450</text>
<text x="2089.0" y="1503.9" text-anchor="middle">500</text>
</g>
<text x="954.2" y="1607" font-size="62.5" letter-spacing="0.85">Wavelength (nm)</text>
<text transform="translate(91 912.6) rotate(-90)" font-size="63" letter-spacing="1.08">Absorbance</text>
<g font-size="61">
<text x="1349" y="208.6" letter-spacing="1.6" word-spacing="4">A<tspan font-style="italic">N</tspan>HMA (chlorobenzene)</text>
<text x="1507.6" y="287.3" letter-spacing="1.6">no. irr.</text>
<text x="1507.6" y="364.9" letter-spacing="1.6">irr. 1 min.</text>
<text x="1507.6" y="442.5" letter-spacing="1.6">irr. 5 min.</text>
<text x="1507.6" y="520.1" letter-spacing="1.6">irr. 10 min.</text>
<text x="1507.6" y="597.7" letter-spacing="1.6">irr. 15 min.</text>
<text x="1507.6" y="675.3" letter-spacing="1.6">irr. 20 min.</text>
</g>
<g font-size="46.4" letter-spacing="0.15">
<text x="315.0" y="1091.7">no. irr.</text>
<text x="451.4" y="1091.7">irr. 5 min.</text>
</g>
</g>
<g fill="none" stroke-linecap="butt">
<path d="M276.6 80.9 H2089.6" stroke="#000" stroke-width="6.1" stroke-opacity="0.5"/><path d="M276.6 80.9 H2089.6" stroke="#000" stroke-width="3.7"/>
<path d="M276.6 1411.0 H2089.6" stroke="#000" stroke-width="6.1" stroke-opacity="0.5"/><path d="M276.6 1411.0 H2089.6" stroke="#000" stroke-width="3.7"/>
<path d="M303.5 79.1 V1412.8" stroke="#000" stroke-width="6.1" stroke-opacity="0.5"/><path d="M303.5 79.1 V1412.8" stroke="#000" stroke-width="3.7"/>
<path d="M2089.6 79.1 V1437.4" stroke="#000" stroke-width="6.1" stroke-opacity="0.5"/><path d="M2089.6 79.1 V1437.4" stroke="#000" stroke-width="3.7"/>
<path d="M288.8 1327.9 H303.5" stroke="#000" stroke-width="5.2" stroke-opacity="0.5"/><path d="M288.8 1327.9 H303.5" stroke="#000" stroke-width="3.1"/>
<path d="M276.6 1244.7 H303.5" stroke="#000" stroke-width="5.2" stroke-opacity="0.5"/><path d="M276.6 1244.7 H303.5" stroke="#000" stroke-width="3.1"/>
<path d="M288.8 1161.6 H303.5" stroke="#000" stroke-width="5.2" stroke-opacity="0.5"/><path d="M288.8 1161.6 H303.5" stroke="#000" stroke-width="3.1"/>
<path d="M276.6 1078.5 H303.5" stroke="#000" stroke-width="5.2" stroke-opacity="0.5"/><path d="M276.6 1078.5 H303.5" stroke="#000" stroke-width="3.1"/>
<path d="M288.8 995.3 H303.5" stroke="#000" stroke-width="5.2" stroke-opacity="0.5"/><path d="M288.8 995.3 H303.5" stroke="#000" stroke-width="3.1"/>
<path d="M276.6 912.2 H303.5" stroke="#000" stroke-width="5.2" stroke-opacity="0.5"/><path d="M276.6 912.2 H303.5" stroke="#000" stroke-width="3.1"/>
<path d="M288.8 829.1 H303.5" stroke="#000" stroke-width="5.2" stroke-opacity="0.5"/><path d="M288.8 829.1 H303.5" stroke="#000" stroke-width="3.1"/>
<path d="M276.6 746.0 H303.5" stroke="#000" stroke-width="5.2" stroke-opacity="0.5"/><path d="M276.6 746.0 H303.5" stroke="#000" stroke-width="3.1"/>
<path d="M288.8 662.8 H303.5" stroke="#000" stroke-width="5.2" stroke-opacity="0.5"/><path d="M288.8 662.8 H303.5" stroke="#000" stroke-width="3.1"/>
<path d="M276.6 579.7 H303.5" stroke="#000" stroke-width="5.2" stroke-opacity="0.5"/><path d="M276.6 579.7 H303.5" stroke="#000" stroke-width="3.1"/>
<path d="M288.8 496.6 H303.5" stroke="#000" stroke-width="5.2" stroke-opacity="0.5"/><path d="M288.8 496.6 H303.5" stroke="#000" stroke-width="3.1"/>
<path d="M276.6 413.4 H303.5" stroke="#000" stroke-width="5.2" stroke-opacity="0.5"/><path d="M276.6 413.4 H303.5" stroke="#000" stroke-width="3.1"/>
<path d="M288.8 330.3 H303.5" stroke="#000" stroke-width="5.2" stroke-opacity="0.5"/><path d="M288.8 330.3 H303.5" stroke="#000" stroke-width="3.1"/>
<path d="M276.6 247.2 H303.5" stroke="#000" stroke-width="5.2" stroke-opacity="0.5"/><path d="M276.6 247.2 H303.5" stroke="#000" stroke-width="3.1"/>
<path d="M288.8 164.0 H303.5" stroke="#000" stroke-width="5.2" stroke-opacity="0.5"/><path d="M288.8 164.0 H303.5" stroke="#000" stroke-width="3.1"/>
<path d="M427.3 1411.0 V1437.4" stroke="#000" stroke-width="5.2" stroke-opacity="0.5"/><path d="M427.3 1411.0 V1437.4" stroke="#000" stroke-width="3.1"/>
<path d="M427.3 80.9 V107.4" stroke="#000" stroke-width="5.2" stroke-opacity="0.5"/><path d="M427.3 80.9 V107.4" stroke="#000" stroke-width="3.1"/>
<path d="M635.1 1411.0 V1424.2" stroke="#000" stroke-width="5.2" stroke-opacity="0.5"/><path d="M635.1 1411.0 V1424.2" stroke="#000" stroke-width="3.1"/>
<path d="M635.1 80.9 V94.5" stroke="#000" stroke-width="5.2" stroke-opacity="0.5"/><path d="M635.1 80.9 V94.5" stroke="#000" stroke-width="3.1"/>
<path d="M842.9 1411.0 V1437.4" stroke="#000" stroke-width="5.2" stroke-opacity="0.5"/><path d="M842.9 1411.0 V1437.4" stroke="#000" stroke-width="3.1"/>
<path d="M842.9 80.9 V107.4" stroke="#000" stroke-width="5.2" stroke-opacity="0.5"/><path d="M842.9 80.9 V107.4" stroke="#000" stroke-width="3.1"/>
<path d="M1050.7 1411.0 V1424.2" stroke="#000" stroke-width="5.2" stroke-opacity="0.5"/><path d="M1050.7 1411.0 V1424.2" stroke="#000" stroke-width="3.1"/>
<path d="M1050.7 80.9 V94.5" stroke="#000" stroke-width="5.2" stroke-opacity="0.5"/><path d="M1050.7 80.9 V94.5" stroke="#000" stroke-width="3.1"/>
<path d="M1258.5 1411.0 V1437.4" stroke="#000" stroke-width="5.2" stroke-opacity="0.5"/><path d="M1258.5 1411.0 V1437.4" stroke="#000" stroke-width="3.1"/>
<path d="M1258.5 80.9 V107.4" stroke="#000" stroke-width="5.2" stroke-opacity="0.5"/><path d="M1258.5 80.9 V107.4" stroke="#000" stroke-width="3.1"/>
<path d="M1466.2 1411.0 V1424.2" stroke="#000" stroke-width="5.2" stroke-opacity="0.5"/><path d="M1466.2 1411.0 V1424.2" stroke="#000" stroke-width="3.1"/>
<path d="M1466.2 80.9 V94.5" stroke="#000" stroke-width="5.2" stroke-opacity="0.5"/><path d="M1466.2 80.9 V94.5" stroke="#000" stroke-width="3.1"/>
<path d="M1674.0 1411.0 V1437.4" stroke="#000" stroke-width="5.2" stroke-opacity="0.5"/><path d="M1674.0 1411.0 V1437.4" stroke="#000" stroke-width="3.1"/>
<path d="M1674.0 80.9 V107.4" stroke="#000" stroke-width="5.2" stroke-opacity="0.5"/><path d="M1674.0 80.9 V107.4" stroke="#000" stroke-width="3.1"/>
<path d="M1881.8 1411.0 V1424.2" stroke="#000" stroke-width="5.2" stroke-opacity="0.5"/><path d="M1881.8 1411.0 V1424.2" stroke="#000" stroke-width="3.1"/>
<path d="M1881.8 80.9 V94.5" stroke="#000" stroke-width="5.2" stroke-opacity="0.5"/><path d="M1881.8 80.9 V94.5" stroke="#000" stroke-width="3.1"/>
</g>
</svg>
</body></html>
